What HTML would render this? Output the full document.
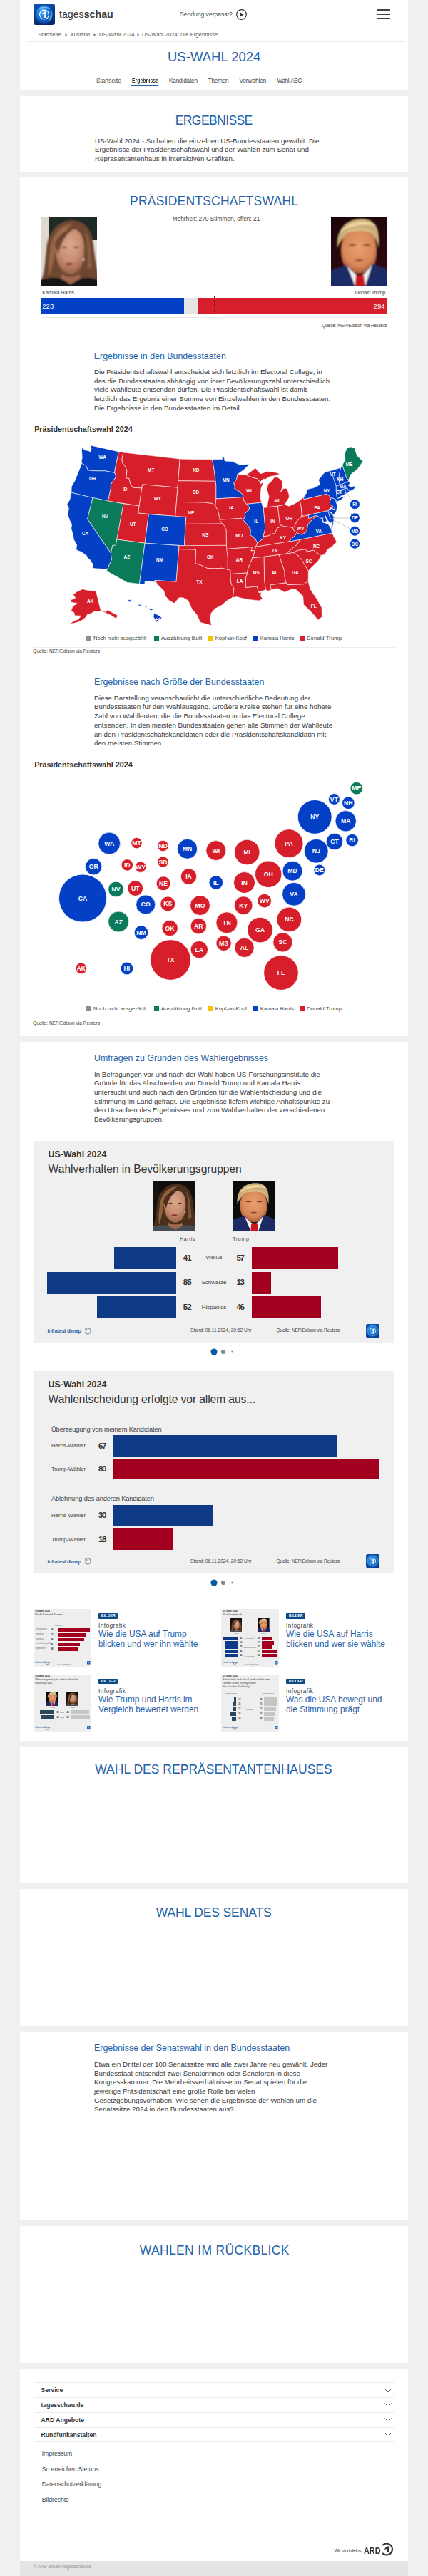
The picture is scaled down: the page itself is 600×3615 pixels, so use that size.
<!DOCTYPE html>
<html lang="de"><head><meta charset="utf-8"><title>US-Wahl 2024: Die Ergebnisse</title>
<style>
html,body{margin:0;padding:0;}
body{width:600px;height:3615px;position:relative;overflow:hidden;background:#f0f0f0;font-family:"Liberation Sans",sans-serif;}
.t{position:absolute;white-space:nowrap;line-height:1;}
svg{position:absolute;overflow:visible;}
</style></head><body>
<div style="position:absolute;left:28px;top:0px;width:544px;height:127px;background:#fff;"></div><div style="position:absolute;left:28px;top:135px;width:544px;height:106px;background:#fff;"></div><div style="position:absolute;left:28px;top:249px;width:544px;height:1205px;background:#fff;"></div><div style="position:absolute;left:28px;top:1462px;width:544px;height:981px;background:#fff;"></div><div style="position:absolute;left:28px;top:2451px;width:544px;height:192px;background:#fff;"></div><div style="position:absolute;left:28px;top:2651px;width:544px;height:192px;background:#fff;"></div><div style="position:absolute;left:28px;top:2851px;width:544px;height:265px;background:#fff;"></div><div style="position:absolute;left:28px;top:3124px;width:544px;height:192px;background:#fff;"></div><div style="position:absolute;left:28px;top:3324px;width:544px;height:291px;background:#fff;"></div><div style="position:absolute;left:28px;top:3594px;width:544px;height:21px;background:#e4e4e4;"></div><svg style="left:47px;top:5px" width="30" height="30" viewBox="0 0 30 30">
<defs><linearGradient id="lg0" x1="0" y1="0" x2="0.3" y2="1"><stop offset="0" stop-color="#0e56b8"/><stop offset="1" stop-color="#07296e"/></linearGradient>
<radialGradient id="lg1" cx="0.4" cy="0.35" r="0.65"><stop offset="0" stop-color="#47b4f7"/><stop offset="0.5" stop-color="#1a78d8"/><stop offset="1" stop-color="#0a47a6"/></radialGradient></defs>
<rect x="0" y="0" width="30" height="30" rx="3.5" fill="url(#lg0)"/>
<circle cx="15" cy="15.5" r="12.2" fill="url(#lg1)"/>
<path d="M5 9 C9 3.5 19 2.5 24.5 8 C20 5.5 11 5.5 5 9Z" fill="#8fd3ff" opacity="0.7"/>
<path d="M25 10 C28 16 26 23 20 26 C23 21 24 15 25 10Z" fill="#8fd3ff" opacity="0.5"/>
<circle cx="15" cy="15.5" r="6.4" fill="none" stroke="#fff" stroke-width="1.1"/>
<path d="M12.4 13.6 L16.1 11.2 L17.5 11.2 L17.5 20 L15.2 20 L15.2 14.1 L12.4 15.3 Z" fill="#fff"/>
</svg><svg style="left:331px;top:13px" width="15" height="15" viewBox="0 0 15 15"><circle cx="7.5" cy="7.5" r="6.8" fill="none" stroke="#333" stroke-width="1.2"/><path d="M5.6 4.3 L10.6 7.5 L5.6 10.7 Z" fill="#333"/></svg><div style="position:absolute;left:529px;top:13.3px;width:18px;height:1.8000000000000007px;background:#444;"></div><div style="position:absolute;left:529px;top:18.9px;width:18px;height:1.8000000000000007px;background:#444;"></div><div style="position:absolute;left:529px;top:24.5px;width:18px;height:1.8000000000000007px;background:#444;"></div><div style="position:absolute;left:38px;top:58px;width:531px;height:1px;background:#ececec;"></div><svg style="left:90.9px;top:46.6px" width="4" height="4" viewBox="0 0 4 4"><path d="M0.5 0.3 L3.3 2 L0.5 3.7Z" fill="#666"/></svg><svg style="left:131.2px;top:46.6px" width="4" height="4" viewBox="0 0 4 4"><path d="M0.5 0.3 L3.3 2 L0.5 3.7Z" fill="#666"/></svg><svg style="left:191.5px;top:46.6px" width="4" height="4" viewBox="0 0 4 4"><path d="M0.5 0.3 L3.3 2 L0.5 3.7Z" fill="#666"/></svg><div style="position:absolute;left:184.4px;top:119.2px;width:37.599999999999994px;height:1.5999999999999943px;background:#1f62a8;"></div><svg style="left:57px;top:304px;overflow:hidden" width="79" height="98" viewBox="0 0 79 98" preserveAspectRatio="none">
<defs><filter id="hb1" x="-10%" y="-10%" width="120%" height="120%"><feGaussianBlur stdDeviation="0.9"/></filter>
<radialGradient id="hf1" cx="0.5" cy="0.35" r="0.65"><stop offset="0" stop-color="#dba88c"/><stop offset="0.6" stop-color="#c88d70"/><stop offset="1" stop-color="#9a6248"/></radialGradient></defs>
<rect width="79" height="98" fill="#dedad0"/>
<rect x="12" y="0" width="67" height="33" fill="#1f2a26"/>
<rect x="70" y="33" width="9" height="50" fill="#e6e3dc"/>
<g filter="url(#hb1)">
<path d="M8 46 C10 20 26 5 45 5 C62 6 72 18 74 40 C76 56 78 72 82 86 L80 92 L0 92 C6 78 6 62 8 46Z" fill="#6e4630"/>
<path d="M14 40 C18 20 32 10 46 10 C36 16 24 28 20 50 C18 62 16 74 12 84 C10 70 12 54 14 40Z" fill="#a8744c" opacity="0.7"/>
<path d="M62 20 C70 30 70 50 72 70 L66 74 C66 56 66 36 62 20Z" fill="#a8744c" opacity="0.55"/>
<path d="M21 48 C20 30 28 17 42 17 C56 17 62 30 61 48 C61 68 54 80 42 81 C30 80 22 68 21 48Z" fill="url(#hf1)"/>
<path d="M20 40 C24 24 36 15 50 16 C40 20 30 30 25 52 C23 48 21 44 20 40Z" fill="#6e4630"/>
<path d="M29 43 Q33 41 37 43 Q33 44.5 29 43Z" fill="#2a1a12"/><path d="M46 43 Q50 41 54 43 Q50 44.5 46 43Z" fill="#2a1a12"/>
<path d="M34 66 Q40 63 46 66 Q40 71 34 66Z" fill="#8a3a3a"/>
<circle cx="60" cy="60" r="1.3" fill="#f4f0e6"/>
<path d="M30 80 C34 86 50 86 54 80 L58 100 L26 100Z" fill="#a06850"/>
<path d="M-5 104 L-5 90 C8 86 20 84 30 88 L42 95 L54 88 C64 84 72 86 84 90 L84 104 Z M30 97 L54 97 L54 104 L30 104Z" fill="#161618"/>
</g></svg><svg style="left:464px;top:304px;overflow:hidden" width="79" height="98" viewBox="0 0 79 98" preserveAspectRatio="none">
<defs><filter id="tb2" x="-10%" y="-10%" width="120%" height="120%"><feGaussianBlur stdDeviation="0.9"/></filter>
<radialGradient id="tf2" cx="0.5" cy="0.4" r="0.6"><stop offset="0" stop-color="#eaa070"/><stop offset="0.7" stop-color="#d88858"/><stop offset="1" stop-color="#a85a38"/></radialGradient></defs>
<linearGradient id="tg2" x1="0" y1="0" x2="0.3" y2="1"><stop offset="0" stop-color="#1a0608"/><stop offset="1" stop-color="#32090f"/></linearGradient>
<rect width="79" height="98" fill="url(#tg2)"/>
<g filter="url(#tb2)">
<path d="M9 44 C6 16 24 3 42 3 C58 3 70 10 67 44 C64 30 58 22 40 22 C24 22 14 30 9 44Z" fill="#c9ad78"/>
<path d="M14 22 C22 6 52 2 64 14 C54 10 30 10 14 22Z" fill="#ecd6a0"/>
<path d="M14 50 C13 28 24 18 40 18 C56 18 65 28 64 50 C64 70 55 80 40 80 C25 80 15 70 14 50Z" fill="url(#tf2)"/>
<path d="M17 24 C26 14 52 13 62 24 C52 19 30 19 17 24Z" fill="#d8bc84"/>
<path d="M24 40 Q30 37 36 40 Q30 42 24 40Z" fill="#6a3a28"/><path d="M44 40 Q50 37 56 40 Q50 42 44 40Z" fill="#6a3a28"/>
<path d="M32 61 Q40 58 46 61 Q40 64 32 61Z" fill="#9a4a3a"/>
<path d="M-5 104 L-5 78 C6 72 16 70 22 68 L40 88 L58 66 C66 68 74 72 84 76 L84 104Z" fill="#1e2c66"/>
<path d="M22 68 L34 98 L48 98 L58 66 C52 76 46 82 40 84 C32 80 26 74 22 68Z" fill="#f2f2f2"/>
<path d="M35 82 L46 82 L49 104 L33 104Z" fill="#c8141e"/>
</g></svg><div style="position:absolute;left:57px;top:418px;width:201.3px;height:22px;background:#0340c6;"></div><div style="position:absolute;left:258.3px;top:418px;width:18.80000000000001px;height:22px;background:#e5e5e5;"></div><div style="position:absolute;left:277.1px;top:418px;width:265.9px;height:22px;background:#d61f2a;"></div><div style="position:absolute;left:299.5px;top:415.5px;width:0;height:24px;border-left:1px dotted #6b1a1f"></div><div style="position:absolute;left:57px;top:444.8px;width:486px;height:1.0px;background:#eaeaea;"></div><div style="position:absolute;left:120.8px;top:891.9px;width:7.200000000000003px;height:7.2000000000000455px;background:#8c8c8c;"></div><div style="position:absolute;left:216px;top:891.9px;width:7.199999999999989px;height:7.2000000000000455px;background:#0b7a5a;"></div><div style="position:absolute;left:291.4px;top:891.9px;width:7.199999999999989px;height:7.2000000000000455px;background:#f2c400;"></div><div style="position:absolute;left:354.5px;top:891.9px;width:7.199999999999989px;height:7.2000000000000455px;background:#0340c6;"></div><div style="position:absolute;left:420px;top:891.9px;width:7.199999999999989px;height:7.2000000000000455px;background:#d61f2a;"></div><div style="position:absolute;left:46px;top:907.5px;width:508px;height:1.0px;background:#ededed;"></div><div style="position:absolute;left:120.8px;top:1412.1000000000001px;width:7.200000000000003px;height:7.199999999999818px;background:#8c8c8c;"></div><div style="position:absolute;left:216px;top:1412.1000000000001px;width:7.199999999999989px;height:7.199999999999818px;background:#0b7a5a;"></div><div style="position:absolute;left:291.4px;top:1412.1000000000001px;width:7.199999999999989px;height:7.199999999999818px;background:#f2c400;"></div><div style="position:absolute;left:354.5px;top:1412.1000000000001px;width:7.199999999999989px;height:7.199999999999818px;background:#0340c6;"></div><div style="position:absolute;left:420px;top:1412.1000000000001px;width:7.199999999999989px;height:7.199999999999818px;background:#d61f2a;"></div><div style="position:absolute;left:46px;top:1427.7px;width:508px;height:1.0px;background:#ededed;"></div><div style="position:absolute;left:47px;top:1601px;width:506px;height:284px;background:#f0f0f0;"></div><svg style="left:214px;top:1658px;overflow:hidden" width="60" height="70" viewBox="0 0 79 98" preserveAspectRatio="none">
<defs><filter id="hb3" x="-10%" y="-10%" width="120%" height="120%"><feGaussianBlur stdDeviation="0.9"/></filter>
<radialGradient id="hf3" cx="0.5" cy="0.35" r="0.65"><stop offset="0" stop-color="#dba88c"/><stop offset="0.6" stop-color="#c88d70"/><stop offset="1" stop-color="#9a6248"/></radialGradient></defs>
<rect width="79" height="98" fill="#15120f"/>
<rect x="12" y="0" width="67" height="33" fill="#100d0b"/>
<rect x="70" y="33" width="9" height="50" fill="#15120f"/>
<g filter="url(#hb3)">
<path d="M8 46 C10 20 26 5 45 5 C62 6 72 18 74 40 C76 56 78 72 82 86 L80 92 L0 92 C6 78 6 62 8 46Z" fill="#4a2e1c"/>
<path d="M14 40 C18 20 32 10 46 10 C36 16 24 28 20 50 C18 62 16 74 12 84 C10 70 12 54 14 40Z" fill="#a8744c" opacity="0.7"/>
<path d="M62 20 C70 30 70 50 72 70 L66 74 C66 56 66 36 62 20Z" fill="#a8744c" opacity="0.55"/>
<path d="M21 48 C20 30 28 17 42 17 C56 17 62 30 61 48 C61 68 54 80 42 81 C30 80 22 68 21 48Z" fill="url(#hf3)"/>
<path d="M20 40 C24 24 36 15 50 16 C40 20 30 30 25 52 C23 48 21 44 20 40Z" fill="#4a2e1c"/>
<path d="M29 43 Q33 41 37 43 Q33 44.5 29 43Z" fill="#2a1a12"/><path d="M46 43 Q50 41 54 43 Q50 44.5 46 43Z" fill="#2a1a12"/>
<path d="M34 66 Q40 63 46 66 Q40 71 34 66Z" fill="#8a3a3a"/>
<circle cx="60" cy="60" r="1.3" fill="#f4f0e6"/>
<path d="M30 80 C34 86 50 86 54 80 L58 100 L26 100Z" fill="#a06850"/>
<path d="M-5 104 L-5 90 C8 86 20 84 30 88 L42 95 L54 88 C64 84 72 86 84 90 L84 104 Z M30 97 L54 97 L54 104 L30 104Z" fill="#4a4d55"/>
</g></svg><svg style="left:326px;top:1658px;overflow:hidden" width="59.5" height="70" viewBox="0 0 79 98" preserveAspectRatio="none">
<defs><filter id="tb4" x="-10%" y="-10%" width="120%" height="120%"><feGaussianBlur stdDeviation="0.9"/></filter>
<radialGradient id="tf4" cx="0.5" cy="0.4" r="0.6"><stop offset="0" stop-color="#eaa070"/><stop offset="0.7" stop-color="#d88858"/><stop offset="1" stop-color="#a85a38"/></radialGradient></defs>
<linearGradient id="tg4" x1="0" y1="0" x2="0.3" y2="1"><stop offset="0" stop-color="#0a0a0c"/><stop offset="1" stop-color="#0c0c0e"/></linearGradient>
<rect width="79" height="98" fill="url(#tg4)"/>
<g filter="url(#tb4)">
<path d="M9 44 C6 16 24 3 42 3 C58 3 70 10 67 44 C64 30 58 22 40 22 C24 22 14 30 9 44Z" fill="#c9ad78"/>
<path d="M14 22 C22 6 52 2 64 14 C54 10 30 10 14 22Z" fill="#ecd6a0"/>
<path d="M14 50 C13 28 24 18 40 18 C56 18 65 28 64 50 C64 70 55 80 40 80 C25 80 15 70 14 50Z" fill="url(#tf4)"/>
<path d="M17 24 C26 14 52 13 62 24 C52 19 30 19 17 24Z" fill="#d8bc84"/>
<path d="M24 40 Q30 37 36 40 Q30 42 24 40Z" fill="#6a3a28"/><path d="M44 40 Q50 37 56 40 Q50 42 44 40Z" fill="#6a3a28"/>
<path d="M32 61 Q40 58 46 61 Q40 64 32 61Z" fill="#9a4a3a"/>
<path d="M-5 104 L-5 78 C6 72 16 70 22 68 L40 88 L58 66 C66 68 74 72 84 76 L84 104Z" fill="#1e2c66"/>
<path d="M22 68 L34 98 L48 98 L58 66 C52 76 46 82 40 84 C32 80 26 74 22 68Z" fill="#f2f2f2"/>
<path d="M35 82 L46 82 L49 104 L33 104Z" fill="#c8141e"/>
</g></svg><div style="position:absolute;left:159.798px;top:1750.0px;width:87.00200000000001px;height:31.0px;background:#0d3987;"></div><div style="position:absolute;left:352.7px;top:1750.0px;width:120.95400000000001px;height:31.0px;background:#a3001f;"></div><div style="position:absolute;left:66.43px;top:1784.6px;width:180.37px;height:31.0px;background:#0d3987;"></div><div style="position:absolute;left:352.7px;top:1784.6px;width:27.586000000000013px;height:31.0px;background:#a3001f;"></div><div style="position:absolute;left:136.45600000000002px;top:1819.2px;width:110.344px;height:31.0px;background:#0d3987;"></div><div style="position:absolute;left:352.7px;top:1819.2px;width:97.61200000000002px;height:31.0px;background:#a3001f;"></div><svg style="left:118px;top:1862.7px" width="10" height="10" viewBox="0 0 10 10"><path d="M5 1 A4 4 0 1 1 1.2 6.2" fill="none" stroke="#7a8aa0" stroke-width="1.1"/><path d="M1.5 1.5 L4 1.5 L4 4 L1.5 4Z" fill="none" stroke="#7a8aa0" stroke-width="0.8"/></svg><svg style="left:513.3px;top:1857.5px" width="19" height="19" viewBox="0 0 30 30">
<defs><radialGradient id="ig1857" cx="0.45" cy="0.45" r="0.7"><stop offset="0" stop-color="#3aa6f2"/><stop offset="0.45" stop-color="#1466c8"/><stop offset="1" stop-color="#06307c"/></radialGradient></defs>
<rect width="30" height="30" rx="4" fill="url(#ig1857)"/>
<circle cx="15" cy="15" r="11" fill="none" stroke="#4fb0f5" stroke-width="3" opacity="0.55"/>
<circle cx="15" cy="15" r="6.6" fill="none" stroke="#fff" stroke-width="1.3"/>
<path d="M12.6 13.2 L16.2 10.8 L17.4 10.8 L17.4 19.6 L15.1 19.6 L15.1 13.6 L12.6 14.8 Z" fill="#fff"/></svg><svg style="left:290px;top:1891.3px" width="40" height="12" viewBox="0 0 40 12"><circle cx="10" cy="6" r="4.6" fill="#0a5aa0"/><circle cx="22.9" cy="6" r="3.1" fill="#8a8a8a"/><circle cx="35.7" cy="6" r="1.45" fill="#8a8a8a"/></svg><div style="position:absolute;left:47px;top:1924px;width:506px;height:283.4000000000001px;background:#f0f0f0;"></div><div style="position:absolute;left:158.9px;top:2014.3px;width:312.89px;height:29.700000000000045px;background:#0d3987;"></div><div style="position:absolute;left:158.9px;top:2046.8px;width:373.6px;height:29.700000000000045px;background:#a3001f;"></div><div style="position:absolute;left:158.9px;top:2111.8px;width:140.1px;height:29.699999999999818px;background:#0d3987;"></div><div style="position:absolute;left:158.9px;top:2145.4px;width:84.06px;height:29.699999999999818px;background:#a3001f;"></div><svg style="left:118px;top:2186.2px" width="10" height="10" viewBox="0 0 10 10"><path d="M5 1 A4 4 0 1 1 1.2 6.2" fill="none" stroke="#7a8aa0" stroke-width="1.1"/><path d="M1.5 1.5 L4 1.5 L4 4 L1.5 4Z" fill="none" stroke="#7a8aa0" stroke-width="0.8"/></svg><svg style="left:513.3px;top:2181.0px" width="19" height="19" viewBox="0 0 30 30">
<defs><radialGradient id="ig2181" cx="0.45" cy="0.45" r="0.7"><stop offset="0" stop-color="#3aa6f2"/><stop offset="0.45" stop-color="#1466c8"/><stop offset="1" stop-color="#06307c"/></radialGradient></defs>
<rect width="30" height="30" rx="4" fill="url(#ig2181)"/>
<circle cx="15" cy="15" r="11" fill="none" stroke="#4fb0f5" stroke-width="3" opacity="0.55"/>
<circle cx="15" cy="15" r="6.6" fill="none" stroke="#fff" stroke-width="1.3"/>
<path d="M12.6 13.2 L16.2 10.8 L17.4 10.8 L17.4 19.6 L15.1 19.6 L15.1 13.6 L12.6 14.8 Z" fill="#fff"/></svg><svg style="left:290px;top:2214.6px" width="40" height="12" viewBox="0 0 40 12"><circle cx="10" cy="6" r="4.6" fill="#0a5aa0"/><circle cx="22.9" cy="6" r="3.1" fill="#8a8a8a"/><circle cx="35.7" cy="6" r="1.45" fill="#8a8a8a"/></svg><div style="position:absolute;left:47px;top:2258.2px;width:81.3px;height:80.5px;background:#eeeeee"></div><div class="t" style="left:49.3px;top:2259.68px;font-size:3.1px;color:#333;font-weight:bold;">US-Wahl 2024</div><div class="t" style="left:49.3px;top:2263.56px;font-size:4.3px;color:#444;">Profil Donald Trump</div><div class="t" style="left:49.3px;top:2331.75px;font-size:2.9px;color:#3b66a8;font-weight:bold;">infratest dimap</div><div style="position:absolute;left:64px;top:2331.5px;width:2.6px;height:2.6px;border:0.6px solid #8a9ab0;border-radius:50%"></div><div class="t" style="left:90px;top:2330.84px;font-size:2.2px;color:#777;transform:translateX(-50%);">Stand: 06.11.2024, 20:52 Uhr</div><div class="t" style="left:90px;top:2333.54px;font-size:2.2px;color:#777;transform:translateX(-50%);">Quelle: NEP/Edison</div><svg style="left:121.8px;top:2330.7999999999997px" width="4.4" height="4.4" viewBox="0 0 30 30">
<defs><radialGradient id="ig2330" cx="0.45" cy="0.45" r="0.7"><stop offset="0" stop-color="#3aa6f2"/><stop offset="0.45" stop-color="#1466c8"/><stop offset="1" stop-color="#06307c"/></radialGradient></defs>
<rect width="30" height="30" rx="4" fill="url(#ig2330)"/>
<circle cx="15" cy="15" r="11" fill="none" stroke="#4fb0f5" stroke-width="3" opacity="0.55"/>
<circle cx="15" cy="15" r="6.6" fill="none" stroke="#fff" stroke-width="1.3"/>
<path d="M12.6 13.2 L16.2 10.8 L17.4 10.8 L17.4 19.6 L15.1 19.6 L15.1 13.6 L12.6 14.8 Z" fill="#fff"/></svg><div class="t" style="left:82.5px;top:2280.77px;font-size:2.4px;color:#666;transform:translateX(-50%);">Tsd. 2024</div><div style="position:absolute;left:81.6px;top:2284.6px;width:44.400000000000006px;height:5.400000000000091px;background:#a3001f;"></div><div class="t" style="left:50px;top:2286.30px;font-size:2.6px;color:#666;">Ein ungewisst</div><div class="t" style="left:71.2px;top:2286.16px;font-size:3.0px;color:#333;font-weight:bold;">54</div><div class="t" style="left:76.5px;top:2286.84px;font-size:2.2px;color:#777;">+/-</div><div style="position:absolute;left:81.6px;top:2291.2999999999997px;width:39.0px;height:5.400000000000091px;background:#a3001f;"></div><div class="t" style="left:50px;top:2293.00px;font-size:2.6px;color:#666;">lebenslust</div><div class="t" style="left:71.2px;top:2292.86px;font-size:3.0px;color:#333;font-weight:bold;">52</div><div class="t" style="left:76.5px;top:2293.54px;font-size:2.2px;color:#777;">+/-</div><div style="position:absolute;left:81.6px;top:2298.0px;width:36.900000000000006px;height:5.400000000000091px;background:#a3001f;"></div><div class="t" style="left:50px;top:2299.70px;font-size:2.6px;color:#666;">ungewisst</div><div class="t" style="left:71.2px;top:2299.56px;font-size:3.0px;color:#333;font-weight:bold;">49</div><div class="t" style="left:76.5px;top:2300.24px;font-size:2.2px;color:#777;">+/-</div><div style="position:absolute;left:81.6px;top:2304.7px;width:30.799999999999997px;height:5.400000000000091px;background:#a3001f;"></div><div class="t" style="left:50px;top:2306.40px;font-size:2.6px;color:#666;">entscheidungsfähig</div><div class="t" style="left:71.2px;top:2306.26px;font-size:3.0px;color:#333;font-weight:bold;">41</div><div class="t" style="left:76.5px;top:2306.94px;font-size:2.2px;color:#777;">+/-</div><div style="position:absolute;left:81.6px;top:2311.4px;width:28.400000000000006px;height:5.400000000000091px;background:#a3001f;"></div><div class="t" style="left:50px;top:2313.10px;font-size:2.6px;color:#666;">sympathisch</div><div class="t" style="left:71.2px;top:2312.96px;font-size:3.0px;color:#333;font-weight:bold;">38</div><div class="t" style="left:76.5px;top:2313.64px;font-size:2.2px;color:#777;">+/-</div><div style="position:absolute;left:138px;top:2263.9px;width:27.099999999999994px;height:7.900000000000091px;background:#0c4a86;border-radius:1px"></div><div style="position:absolute;left:309.8px;top:2258.2px;width:81.3px;height:80.5px;background:#eeeeee"></div><div class="t" style="left:312.1px;top:2259.68px;font-size:3.1px;color:#333;font-weight:bold;">US-Wahl 2024</div><div class="t" style="left:312.1px;top:2263.56px;font-size:4.3px;color:#444;">Profilvergleich</div><div class="t" style="left:312.1px;top:2331.75px;font-size:2.9px;color:#3b66a8;font-weight:bold;">infratest dimap</div><div style="position:absolute;left:326.8px;top:2331.5px;width:2.6px;height:2.6px;border:0.6px solid #8a9ab0;border-radius:50%"></div><div class="t" style="left:352.8px;top:2330.84px;font-size:2.2px;color:#777;transform:translateX(-50%);">Stand: 06.11.2024, 20:52 Uhr</div><div class="t" style="left:352.8px;top:2333.54px;font-size:2.2px;color:#777;transform:translateX(-50%);">Quelle: NEP/Edison</div><svg style="left:384.6px;top:2330.7999999999997px" width="4.4" height="4.4" viewBox="0 0 30 30">
<defs><radialGradient id="ig2330" cx="0.45" cy="0.45" r="0.7"><stop offset="0" stop-color="#3aa6f2"/><stop offset="0.45" stop-color="#1466c8"/><stop offset="1" stop-color="#06307c"/></radialGradient></defs>
<rect width="30" height="30" rx="4" fill="url(#ig2330)"/>
<circle cx="15" cy="15" r="11" fill="none" stroke="#4fb0f5" stroke-width="3" opacity="0.55"/>
<circle cx="15" cy="15" r="6.6" fill="none" stroke="#fff" stroke-width="1.3"/>
<path d="M12.6 13.2 L16.2 10.8 L17.4 10.8 L17.4 19.6 L15.1 19.6 L15.1 13.6 L12.6 14.8 Z" fill="#fff"/></svg><svg style="left:322.90000000000003px;top:2271.0px;overflow:hidden" width="16.4" height="19.2" viewBox="0 0 79 98" preserveAspectRatio="none">
<defs><filter id="hb5" x="-10%" y="-10%" width="120%" height="120%"><feGaussianBlur stdDeviation="0.9"/></filter>
<radialGradient id="hf5" cx="0.5" cy="0.35" r="0.65"><stop offset="0" stop-color="#dba88c"/><stop offset="0.6" stop-color="#c88d70"/><stop offset="1" stop-color="#9a6248"/></radialGradient></defs>
<rect width="79" height="98" fill="#15120f"/>
<rect x="12" y="0" width="67" height="33" fill="#100d0b"/>
<rect x="70" y="33" width="9" height="50" fill="#15120f"/>
<g filter="url(#hb5)">
<path d="M8 46 C10 20 26 5 45 5 C62 6 72 18 74 40 C76 56 78 72 82 86 L80 92 L0 92 C6 78 6 62 8 46Z" fill="#4a2e1c"/>
<path d="M14 40 C18 20 32 10 46 10 C36 16 24 28 20 50 C18 62 16 74 12 84 C10 70 12 54 14 40Z" fill="#a8744c" opacity="0.7"/>
<path d="M62 20 C70 30 70 50 72 70 L66 74 C66 56 66 36 62 20Z" fill="#a8744c" opacity="0.55"/>
<path d="M21 48 C20 30 28 17 42 17 C56 17 62 30 61 48 C61 68 54 80 42 81 C30 80 22 68 21 48Z" fill="url(#hf5)"/>
<path d="M20 40 C24 24 36 15 50 16 C40 20 30 30 25 52 C23 48 21 44 20 40Z" fill="#4a2e1c"/>
<path d="M29 43 Q33 41 37 43 Q33 44.5 29 43Z" fill="#2a1a12"/><path d="M46 43 Q50 41 54 43 Q50 44.5 46 43Z" fill="#2a1a12"/>
<path d="M34 66 Q40 63 46 66 Q40 71 34 66Z" fill="#8a3a3a"/>
<circle cx="60" cy="60" r="1.3" fill="#f4f0e6"/>
<path d="M30 80 C34 86 50 86 54 80 L58 100 L26 100Z" fill="#a06850"/>
<path d="M-5 104 L-5 90 C8 86 20 84 30 88 L42 95 L54 88 C64 84 72 86 84 90 L84 104 Z M30 97 L54 97 L54 104 L30 104Z" fill="#4a4d55"/>
</g></svg><svg style="left:361.2px;top:2271.0px;overflow:hidden" width="16.6" height="19.2" viewBox="0 0 79 98" preserveAspectRatio="none">
<defs><filter id="tb6" x="-10%" y="-10%" width="120%" height="120%"><feGaussianBlur stdDeviation="0.9"/></filter>
<radialGradient id="tf6" cx="0.5" cy="0.4" r="0.6"><stop offset="0" stop-color="#eaa070"/><stop offset="0.7" stop-color="#d88858"/><stop offset="1" stop-color="#a85a38"/></radialGradient></defs>
<linearGradient id="tg6" x1="0" y1="0" x2="0.3" y2="1"><stop offset="0" stop-color="#0a0a0c"/><stop offset="1" stop-color="#0c0c0e"/></linearGradient>
<rect width="79" height="98" fill="url(#tg6)"/>
<g filter="url(#tb6)">
<path d="M9 44 C6 16 24 3 42 3 C58 3 70 10 67 44 C64 30 58 22 40 22 C24 22 14 30 9 44Z" fill="#c9ad78"/>
<path d="M14 22 C22 6 52 2 64 14 C54 10 30 10 14 22Z" fill="#ecd6a0"/>
<path d="M14 50 C13 28 24 18 40 18 C56 18 65 28 64 50 C64 70 55 80 40 80 C25 80 15 70 14 50Z" fill="url(#tf6)"/>
<path d="M17 24 C26 14 52 13 62 24 C52 19 30 19 17 24Z" fill="#d8bc84"/>
<path d="M24 40 Q30 37 36 40 Q30 42 24 40Z" fill="#6a3a28"/><path d="M44 40 Q50 37 56 40 Q50 42 44 40Z" fill="#6a3a28"/>
<path d="M32 61 Q40 58 46 61 Q40 64 32 61Z" fill="#9a4a3a"/>
<path d="M-5 104 L-5 78 C6 72 16 70 22 68 L40 88 L58 66 C66 68 74 72 84 76 L84 104Z" fill="#1e2c66"/>
<path d="M22 68 L34 98 L48 98 L58 66 C52 76 46 82 40 84 C32 80 26 74 22 68Z" fill="#f2f2f2"/>
<path d="M35 82 L46 82 L49 104 L33 104Z" fill="#c8141e"/>
</g></svg><div class="t" style="left:330.8px;top:2291.34px;font-size:2.2px;color:#666;transform:translateX(-50%);">Harris</div><div class="t" style="left:369.3px;top:2291.34px;font-size:2.2px;color:#666;transform:translateX(-50%);">Trump</div><div style="position:absolute;left:312.1px;top:2296.7px;width:20.599999999999966px;height:5.0px;background:#0d3987;"></div><div style="position:absolute;left:367.0px;top:2296.7px;width:13.600000000000023px;height:5.0px;background:#a3001f;"></div><div class="t" style="left:336.3px;top:2297.83px;font-size:2.8px;color:#333;font-weight:bold;">49</div><div class="t" style="left:349.8px;top:2298.34px;font-size:2.2px;color:#666;transform:translateX(-50%);">sympathisch</div><div class="t" style="left:360.8px;top:2297.83px;font-size:2.8px;color:#333;font-weight:bold;">38</div><div style="position:absolute;left:314.5px;top:2302.7999999999997px;width:18.19999999999999px;height:5.0px;background:#0d3987;"></div><div style="position:absolute;left:367.0px;top:2302.7999999999997px;width:17.100000000000023px;height:5.0px;background:#a3001f;"></div><div class="t" style="left:336.3px;top:2303.93px;font-size:2.8px;color:#333;font-weight:bold;">54</div><div class="t" style="left:349.8px;top:2304.44px;font-size:2.2px;color:#666;transform:translateX(-50%);">besonnen</div><div class="t" style="left:360.8px;top:2303.93px;font-size:2.8px;color:#333;font-weight:bold;">42</div><div style="position:absolute;left:315.90000000000003px;top:2308.8999999999996px;width:16.799999999999955px;height:5.0px;background:#0d3987;"></div><div style="position:absolute;left:367.0px;top:2308.8999999999996px;width:14.800000000000011px;height:5.0px;background:#a3001f;"></div><div class="t" style="left:336.3px;top:2310.03px;font-size:2.8px;color:#333;font-weight:bold;">45</div><div class="t" style="left:349.8px;top:2310.54px;font-size:2.2px;color:#666;transform:translateX(-50%);">entscheidungsstark</div><div class="t" style="left:360.8px;top:2310.03px;font-size:2.8px;color:#333;font-weight:bold;">45</div><div style="position:absolute;left:315.90000000000003px;top:2315.0px;width:16.799999999999955px;height:5.0px;background:#0d3987;"></div><div style="position:absolute;left:367.0px;top:2315.0px;width:21.80000000000001px;height:5.0px;background:#a3001f;"></div><div class="t" style="left:336.3px;top:2316.13px;font-size:2.8px;color:#333;font-weight:bold;">46</div><div class="t" style="left:349.8px;top:2316.64px;font-size:2.2px;color:#666;transform:translateX(-50%);">glaubwürdig</div><div class="t" style="left:360.8px;top:2316.13px;font-size:2.8px;color:#333;font-weight:bold;">63</div><div style="position:absolute;left:316.40000000000003px;top:2321.1px;width:16.299999999999955px;height:5.0px;background:#0d3987;"></div><div style="position:absolute;left:367.0px;top:2321.1px;width:21.0px;height:5.0px;background:#a3001f;"></div><div class="t" style="left:336.3px;top:2322.23px;font-size:2.8px;color:#333;font-weight:bold;">48</div><div class="t" style="left:349.8px;top:2322.74px;font-size:2.2px;color:#666;transform:translateX(-50%);">Ein ungewisst</div><div class="t" style="left:360.8px;top:2322.23px;font-size:2.8px;color:#333;font-weight:bold;">54</div><div style="position:absolute;left:401px;top:2263.9px;width:27.100000000000023px;height:7.900000000000091px;background:#0c4a86;border-radius:1px"></div><div style="position:absolute;left:47px;top:2349.8px;width:81.3px;height:80.5px;background:#eeeeee"></div><div class="t" style="left:49.3px;top:2351.28px;font-size:3.1px;color:#333;font-weight:bold;">US-Wahl 2024</div><div class="t" style="left:49.3px;top:2355.33px;font-size:4.1px;color:#444;">Überwiegend gute oder schlechte</div><div class="t" style="left:49.3px;top:2359.93px;font-size:4.1px;color:#444;">Meinung von...</div><div class="t" style="left:49.3px;top:2423.35px;font-size:2.9px;color:#3b66a8;font-weight:bold;">infratest dimap</div><div style="position:absolute;left:64px;top:2423.1000000000004px;width:2.6px;height:2.6px;border:0.6px solid #8a9ab0;border-radius:50%"></div><div class="t" style="left:90px;top:2422.44px;font-size:2.2px;color:#777;transform:translateX(-50%);">Stand: 06.11.2024, 20:52 Uhr</div><div class="t" style="left:90px;top:2425.14px;font-size:2.2px;color:#777;transform:translateX(-50%);">Quelle: NEP/Edison</div><svg style="left:121.8px;top:2422.4px" width="4.4" height="4.4" viewBox="0 0 30 30">
<defs><radialGradient id="ig2422" cx="0.45" cy="0.45" r="0.7"><stop offset="0" stop-color="#3aa6f2"/><stop offset="0.45" stop-color="#1466c8"/><stop offset="1" stop-color="#06307c"/></radialGradient></defs>
<rect width="30" height="30" rx="4" fill="url(#ig2422)"/>
<circle cx="15" cy="15" r="11" fill="none" stroke="#4fb0f5" stroke-width="3" opacity="0.55"/>
<circle cx="15" cy="15" r="6.6" fill="none" stroke="#fff" stroke-width="1.3"/>
<path d="M12.6 13.2 L16.2 10.8 L17.4 10.8 L17.4 19.6 L15.1 19.6 L15.1 13.6 L12.6 14.8 Z" fill="#fff"/></svg><svg style="left:65.2px;top:2373.9px;overflow:hidden" width="17.3" height="19.8" viewBox="0 0 79 98" preserveAspectRatio="none">
<defs><filter id="tb7" x="-10%" y="-10%" width="120%" height="120%"><feGaussianBlur stdDeviation="0.9"/></filter>
<radialGradient id="tf7" cx="0.5" cy="0.4" r="0.6"><stop offset="0" stop-color="#eaa070"/><stop offset="0.7" stop-color="#d88858"/><stop offset="1" stop-color="#a85a38"/></radialGradient></defs>
<linearGradient id="tg7" x1="0" y1="0" x2="0.3" y2="1"><stop offset="0" stop-color="#0a0a0c"/><stop offset="1" stop-color="#0c0c0e"/></linearGradient>
<rect width="79" height="98" fill="url(#tg7)"/>
<g filter="url(#tb7)">
<path d="M9 44 C6 16 24 3 42 3 C58 3 70 10 67 44 C64 30 58 22 40 22 C24 22 14 30 9 44Z" fill="#c9ad78"/>
<path d="M14 22 C22 6 52 2 64 14 C54 10 30 10 14 22Z" fill="#ecd6a0"/>
<path d="M14 50 C13 28 24 18 40 18 C56 18 65 28 64 50 C64 70 55 80 40 80 C25 80 15 70 14 50Z" fill="url(#tf7)"/>
<path d="M17 24 C26 14 52 13 62 24 C52 19 30 19 17 24Z" fill="#d8bc84"/>
<path d="M24 40 Q30 37 36 40 Q30 42 24 40Z" fill="#6a3a28"/><path d="M44 40 Q50 37 56 40 Q50 42 44 40Z" fill="#6a3a28"/>
<path d="M32 61 Q40 58 46 61 Q40 64 32 61Z" fill="#9a4a3a"/>
<path d="M-5 104 L-5 78 C6 72 16 70 22 68 L40 88 L58 66 C66 68 74 72 84 76 L84 104Z" fill="#1e2c66"/>
<path d="M22 68 L34 98 L48 98 L58 66 C52 76 46 82 40 84 C32 80 26 74 22 68Z" fill="#f2f2f2"/>
<path d="M35 82 L46 82 L49 104 L33 104Z" fill="#c8141e"/>
</g></svg><svg style="left:93px;top:2373.9px;overflow:hidden" width="17" height="19.8" viewBox="0 0 79 98" preserveAspectRatio="none">
<defs><filter id="hb8" x="-10%" y="-10%" width="120%" height="120%"><feGaussianBlur stdDeviation="0.9"/></filter>
<radialGradient id="hf8" cx="0.5" cy="0.35" r="0.65"><stop offset="0" stop-color="#dba88c"/><stop offset="0.6" stop-color="#c88d70"/><stop offset="1" stop-color="#9a6248"/></radialGradient></defs>
<rect width="79" height="98" fill="#15120f"/>
<rect x="12" y="0" width="67" height="33" fill="#100d0b"/>
<rect x="70" y="33" width="9" height="50" fill="#15120f"/>
<g filter="url(#hb8)">
<path d="M8 46 C10 20 26 5 45 5 C62 6 72 18 74 40 C76 56 78 72 82 86 L80 92 L0 92 C6 78 6 62 8 46Z" fill="#4a2e1c"/>
<path d="M14 40 C18 20 32 10 46 10 C36 16 24 28 20 50 C18 62 16 74 12 84 C10 70 12 54 14 40Z" fill="#a8744c" opacity="0.7"/>
<path d="M62 20 C70 30 70 50 72 70 L66 74 C66 56 66 36 62 20Z" fill="#a8744c" opacity="0.55"/>
<path d="M21 48 C20 30 28 17 42 17 C56 17 62 30 61 48 C61 68 54 80 42 81 C30 80 22 68 21 48Z" fill="url(#hf8)"/>
<path d="M20 40 C24 24 36 15 50 16 C40 20 30 30 25 52 C23 48 21 44 20 40Z" fill="#4a2e1c"/>
<path d="M29 43 Q33 41 37 43 Q33 44.5 29 43Z" fill="#2a1a12"/><path d="M46 43 Q50 41 54 43 Q50 44.5 46 43Z" fill="#2a1a12"/>
<path d="M34 66 Q40 63 46 66 Q40 71 34 66Z" fill="#8a3a3a"/>
<circle cx="60" cy="60" r="1.3" fill="#f4f0e6"/>
<path d="M30 80 C34 86 50 86 54 80 L58 100 L26 100Z" fill="#a06850"/>
<path d="M-5 104 L-5 90 C8 86 20 84 30 88 L42 95 L54 88 C64 84 72 86 84 90 L84 104 Z M30 97 L54 97 L54 104 L30 104Z" fill="#4a4d55"/>
</g></svg><div class="t" style="left:74px;top:2395.44px;font-size:2.2px;color:#666;transform:translateX(-50%);">Trump</div><div class="t" style="left:101.5px;top:2395.44px;font-size:2.2px;color:#666;transform:translateX(-50%);">Harris</div><div style="position:absolute;left:56.3px;top:2400.0px;width:19.900000000000006px;height:5.900000000000091px;background:#2c475c;"></div><div style="position:absolute;left:57.5px;top:2407.0px;width:18.700000000000003px;height:5.900000000000091px;background:#2c475c;"></div><div style="position:absolute;left:99.3px;top:2400.0px;width:25.700000000000003px;height:5.900000000000091px;background:#c6c6c6;"></div><div style="position:absolute;left:99.3px;top:2407.0px;width:26.700000000000003px;height:5.900000000000091px;background:#c6c6c6;"></div><div class="t" style="left:79.5px;top:2401.73px;font-size:2.8px;color:#333;font-weight:bold;">52</div><div class="t" style="left:87px;top:2402.24px;font-size:2.2px;color:#666;transform:translateX(-50%);">Trump</div><div class="t" style="left:93.5px;top:2401.73px;font-size:2.8px;color:#333;font-weight:bold;">46</div><div class="t" style="left:79.5px;top:2408.73px;font-size:2.8px;color:#333;font-weight:bold;">48</div><div class="t" style="left:87px;top:2409.24px;font-size:2.2px;color:#666;transform:translateX(-50%);">Harris</div><div class="t" style="left:93.5px;top:2408.73px;font-size:2.8px;color:#333;font-weight:bold;">52</div><div style="position:absolute;left:138px;top:2355.6px;width:27.099999999999994px;height:7.900000000000091px;background:#0c4a86;border-radius:1px"></div><div style="position:absolute;left:309.8px;top:2349.8px;width:81.3px;height:80.5px;background:#eeeeee"></div><div class="t" style="left:312.1px;top:2351.28px;font-size:3.1px;color:#333;font-weight:bold;">US-Wahl 2024</div><div class="t" style="left:312.1px;top:2355.33px;font-size:4.1px;color:#444;">Entwickelt sich das Land auf diesem</div><div class="t" style="left:312.1px;top:2359.93px;font-size:4.1px;color:#444;">Gebiet in die richtige oder</div><div class="t" style="left:312.1px;top:2364.53px;font-size:4.1px;color:#444;">die falsche Richtung?</div><div class="t" style="left:312.1px;top:2423.35px;font-size:2.9px;color:#3b66a8;font-weight:bold;">infratest dimap</div><div style="position:absolute;left:326.8px;top:2423.1000000000004px;width:2.6px;height:2.6px;border:0.6px solid #8a9ab0;border-radius:50%"></div><div class="t" style="left:352.8px;top:2422.44px;font-size:2.2px;color:#777;transform:translateX(-50%);">Stand: 06.11.2024, 20:52 Uhr</div><div class="t" style="left:352.8px;top:2425.14px;font-size:2.2px;color:#777;transform:translateX(-50%);">Quelle: NEP/Edison</div><svg style="left:384.6px;top:2422.4px" width="4.4" height="4.4" viewBox="0 0 30 30">
<defs><radialGradient id="ig2422" cx="0.45" cy="0.45" r="0.7"><stop offset="0" stop-color="#3aa6f2"/><stop offset="0.45" stop-color="#1466c8"/><stop offset="1" stop-color="#06307c"/></radialGradient></defs>
<rect width="30" height="30" rx="4" fill="url(#ig2422)"/>
<circle cx="15" cy="15" r="11" fill="none" stroke="#4fb0f5" stroke-width="3" opacity="0.55"/>
<circle cx="15" cy="15" r="6.6" fill="none" stroke="#fff" stroke-width="1.3"/>
<path d="M12.6 13.2 L16.2 10.8 L17.4 10.8 L17.4 19.6 L15.1 19.6 L15.1 13.6 L12.6 14.8 Z" fill="#fff"/></svg><div class="t" style="left:323.8px;top:2375.44px;font-size:2.2px;color:#666;transform:translateX(-50%);">richtige Richtung</div><div class="t" style="left:375.8px;top:2375.44px;font-size:2.2px;color:#666;transform:translateX(-50%);">falsche Richtung</div><div style="position:absolute;left:327.6px;top:2382.0px;width:3.1999999999999886px;height:5.800000000000182px;background:#2c475c;"></div><div style="position:absolute;left:370.0px;top:2382.0px;width:18.80000000000001px;height:5.800000000000182px;background:#c6c6c6;"></div><div class="t" style="left:334.3px;top:2383.63px;font-size:2.8px;color:#333;font-weight:bold;">14</div><div class="t" style="left:349.8px;top:2384.14px;font-size:2.2px;color:#666;transform:translateX(-50%);">Einwanderung</div><div class="t" style="left:364.3px;top:2383.63px;font-size:2.8px;color:#333;font-weight:bold;">78</div><div style="position:absolute;left:326.2px;top:2388.7px;width:4.600000000000023px;height:5.800000000000182px;background:#2c475c;"></div><div style="position:absolute;left:370.0px;top:2388.7px;width:18.30000000000001px;height:5.800000000000182px;background:#c6c6c6;"></div><div class="t" style="left:334.3px;top:2390.33px;font-size:2.8px;color:#333;font-weight:bold;">26</div><div class="t" style="left:349.8px;top:2390.84px;font-size:2.2px;color:#666;transform:translateX(-50%);">Sicherheitsprogramme</div><div class="t" style="left:364.3px;top:2390.33px;font-size:2.8px;color:#333;font-weight:bold;">70</div><div style="position:absolute;left:326.40000000000003px;top:2395.4px;width:4.399999999999977px;height:5.800000000000182px;background:#2c475c;"></div><div style="position:absolute;left:370.0px;top:2395.4px;width:16.899999999999977px;height:5.800000000000182px;background:#c6c6c6;"></div><div class="t" style="left:334.3px;top:2397.03px;font-size:2.8px;color:#333;font-weight:bold;">17</div><div class="t" style="left:349.8px;top:2397.54px;font-size:2.2px;color:#666;transform:translateX(-50%);">Kriminalität</div><div class="t" style="left:364.3px;top:2397.03px;font-size:2.8px;color:#333;font-weight:bold;">63</div><div style="position:absolute;left:323.40000000000003px;top:2402.1px;width:7.399999999999977px;height:5.800000000000182px;background:#2c475c;"></div><div style="position:absolute;left:370.0px;top:2402.1px;width:15.300000000000011px;height:5.800000000000182px;background:#c6c6c6;"></div><div class="t" style="left:334.3px;top:2403.73px;font-size:2.8px;color:#333;font-weight:bold;">28</div><div class="t" style="left:349.8px;top:2404.24px;font-size:2.2px;color:#666;transform:translateX(-50%);">Wirtschaft</div><div class="t" style="left:364.3px;top:2403.73px;font-size:2.8px;color:#333;font-weight:bold;">65</div><div style="position:absolute;left:325.2px;top:2408.8px;width:5.600000000000023px;height:5.800000000000182px;background:#2c475c;"></div><div style="position:absolute;left:370.0px;top:2408.8px;width:14.100000000000023px;height:5.800000000000182px;background:#c6c6c6;"></div><div class="t" style="left:334.3px;top:2410.43px;font-size:2.8px;color:#333;font-weight:bold;">25</div><div class="t" style="left:349.8px;top:2410.94px;font-size:2.2px;color:#666;transform:translateX(-50%);">Außenpolitik</div><div class="t" style="left:364.3px;top:2410.43px;font-size:2.8px;color:#333;font-weight:bold;">58</div><div style="position:absolute;left:401px;top:2355.6px;width:27.100000000000023px;height:7.900000000000091px;background:#0c4a86;border-radius:1px"></div><div style="position:absolute;left:47.5px;top:3343.3px;width:504.5px;height:1.0px;background:#ececec;"></div><div style="position:absolute;left:47.5px;top:3364.3px;width:504.5px;height:1.0px;background:#ececec;"></div><div style="position:absolute;left:47.5px;top:3385.2px;width:504.5px;height:1.0px;background:#ececec;"></div><div style="position:absolute;left:47.5px;top:3405.8px;width:504.5px;height:1.0px;background:#ececec;"></div><div style="position:absolute;left:47.5px;top:3426.3px;width:504.5px;height:1.0px;background:#ececec;"></div><svg style="left:539px;top:3351.5px" width="10" height="6" viewBox="0 0 10 6"><path d="M0.5 0.5 L5 5 L9.5 0.5" fill="none" stroke="#666" stroke-width="1"/></svg><svg style="left:539px;top:3372.25px" width="10" height="6" viewBox="0 0 10 6"><path d="M0.5 0.5 L5 5 L9.5 0.5" fill="none" stroke="#666" stroke-width="1"/></svg><svg style="left:539px;top:3393.0px" width="10" height="6" viewBox="0 0 10 6"><path d="M0.5 0.5 L5 5 L9.5 0.5" fill="none" stroke="#666" stroke-width="1"/></svg><svg style="left:539px;top:3413.75px" width="10" height="6" viewBox="0 0 10 6"><path d="M0.5 0.5 L5 5 L9.5 0.5" fill="none" stroke="#666" stroke-width="1"/></svg><svg style="left:533px;top:3568px" width="19" height="19" viewBox="0 0 19 19"><path d="M3.2 4 A8 8 0 1 1 3.2 15" fill="none" stroke="#333" stroke-width="2.2"/><path d="M6.5 8 L10.8 5.2 L12.3 5.2 L12.3 14 L9.6 14 L9.6 8.8 L6.5 10Z" fill="#333"/></svg><svg style="left:0;top:0" width="600" height="900" viewBox="0 0 600 900"><g stroke="#fff" stroke-width="0.6" stroke-linejoin="round"><path d="M115.2 628.2L119.1 631.7L124.4 632.8L127.1 634.3L128.1 629.4L126.6 624.9L166.5 633.9L161.0 659.2L160.9 663.5L146.8 660.7L144.5 660.9L130.9 660.7L123.2 659.9L120.6 653.5L114.4 650.3L114.4 646.6L115.2 642.6L114.9 636.3L114.5 632.0Z" fill="#0340c6"/><path d="M100.0 691.2L130.1 698.6L151.5 703.0L155.4 685.1L155.3 679.9L158.6 674.9L162.7 669.0L160.9 663.5L146.8 660.7L144.5 660.9L130.9 660.7L123.2 659.9L120.6 653.5L114.4 650.3L111.9 657.5L108.0 666.9L105.0 674.5L100.3 682.8Z" fill="#0340c6"/><path d="M100.0 691.2L130.1 698.6L122.6 728.4L155.5 776.3L155.6 778.4L156.5 785.3L150.4 799.0L130.2 797.4L130.0 791.5L126.2 785.5L122.6 782.7L121.6 779.9L114.4 774.7L106.8 771.4L107.7 764.8L103.7 757.6L102.0 748.7L99.8 741.9L100.7 735.7L98.0 730.8L94.9 722.1L96.6 713.5L94.0 707.5L97.9 701.2L99.2 694.1Z" fill="#0340c6"/><path d="M130.1 698.6L173.2 706.8L162.4 765.1L157.8 765.4L155.5 776.3L122.6 728.4Z" fill="#0b7a5a"/><path d="M166.5 633.9L172.9 635.0L170.9 645.0L172.1 650.7L174.8 653.2L178.0 659.9L176.9 670.9L180.8 671.0L182.7 678.5L186.4 684.2L198.9 684.8L195.1 709.9L151.5 703.0L155.4 685.1L155.3 679.9L158.6 674.9L162.7 669.0L160.9 663.5L161.0 659.2Z" fill="#d61f2a"/><path d="M172.9 635.0L252.2 644.1L249.0 684.2L199.7 679.8L198.9 684.8L186.4 684.2L182.7 678.5L180.8 671.0L176.9 670.9L178.0 659.9L174.8 653.2L172.1 650.7L170.9 645.0Z" fill="#d61f2a"/><path d="M199.7 679.8L249.0 684.2L245.8 724.6L193.5 720.0Z" fill="#d61f2a"/><path d="M173.1 706.8L195.1 709.9L193.5 720.0L208.4 721.7L203.1 762.2L163.8 757.0Z" fill="#d61f2a"/><path d="M208.4 721.7L260.8 725.2L258.4 765.8L203.1 762.2Z" fill="#0340c6"/><path d="M163.8 757.0L203.1 762.2L195.5 819.4L178.4 817.4L149.1 801.1L150.4 799.0L156.5 785.3L155.6 778.4L155.5 776.3L157.8 765.4L162.4 765.1Z" fill="#0b7a5a"/><path d="M203.1 762.2L250.9 765.6L250.6 770.7L247.1 816.3L216.9 814.5L217.7 816.8L203.3 815.6L202.7 820.1L195.5 819.4Z" fill="#0340c6"/><path d="M252.2 644.1L297.6 644.8L300.1 658.7L301.8 671.7L302.1 675.3L249.8 674.7Z" fill="#d61f2a"/><path d="M249.8 674.7L302.1 675.3L302.9 681.7L302.9 699.9L301.8 710.0L297.4 706.6L287.9 705.2L247.4 704.4Z" fill="#d61f2a"/><path d="M247.4 704.4L287.9 705.2L297.4 706.6L301.8 710.0L305.5 716.0L307.0 723.0L311.7 735.1L260.2 735.4L260.8 725.2L245.8 724.6Z" fill="#d61f2a"/><path d="M260.2 735.4L311.7 735.1L314.8 738.0L317.2 743.9L317.5 765.3L258.5 765.9Z" fill="#d61f2a"/><path d="M250.9 765.6L317.5 765.3L319.3 781.4L319.3 799.3L310.8 797.3L301.7 797.9L290.9 797.6L280.3 792.6L273.8 790.9L274.5 771.2L250.6 770.7Z" fill="#d61f2a"/><path d="M250.6 770.7L274.5 771.2L273.8 790.9L280.3 792.6L290.9 797.6L301.7 797.9L310.8 797.3L319.3 799.3L323.0 800.0L323.4 815.7L324.7 820.7L327.9 825.6L326.9 835.2L325.7 838.8L318.3 842.7L310.5 849.6L301.7 853.9L296.3 860.0L294.4 868.1L296.6 877.5L292.5 876.6L280.8 873.2L275.7 862.2L268.8 854.2L264.0 843.0L257.3 838.9L251.2 838.7L244.5 846.5L237.7 843.2L232.1 836.8L229.4 828.6L221.5 820.9L216.9 814.5L247.1 816.3Z" fill="#d61f2a"/><path d="M297.6 644.8L311.5 644.4L311.5 640.6L313.8 641.3L315.2 647.0L325.3 647.6L336.4 652.3L349.9 651.5L341.6 659.3L332.9 665.6L331.8 672.4L327.8 677.5L329.5 683.4L328.9 686.0L334.7 689.1L340.8 694.7L340.8 697.7L302.9 699.9L302.9 681.7L302.1 675.3L301.8 671.7L300.1 658.7Z" fill="#0340c6"/><path d="M302.9 699.9L340.8 697.7L342.0 702.7L345.6 707.4L349.6 712.1L349.4 715.2L343.0 720.9L344.0 724.8L340.8 729.5L338.6 727.3L308.0 729.3L307.0 723.0L305.5 716.0L301.8 710.0Z" fill="#d61f2a"/><path d="M308.0 729.3L338.6 727.3L340.8 729.5L347.8 737.7L351.3 743.5L351.0 750.7L357.7 756.1L360.9 761.9L358.5 767.3L357.3 772.5L351.9 773.0L353.3 767.8L317.6 770.4L317.5 765.3L317.2 743.9L314.8 738.0L311.7 735.1Z" fill="#d61f2a"/><path d="M317.6 770.4L353.3 767.8L351.9 773.0L357.3 772.5L354.7 781.9L351.0 789.4L347.4 798.8L346.9 803.9L323.1 805.6L323.0 800.0L319.3 799.3L319.3 781.4Z" fill="#d61f2a"/><path d="M323.1 805.6L346.9 803.9L344.7 810.2L344.3 818.3L344.6 824.4L360.6 822.9L362.3 830.8L364.2 832.7L366.6 830.4L365.4 836.6L368.3 840.3L363.2 842.9L357.9 842.4L348.1 841.2L339.2 839.4L331.3 837.5L325.7 838.8L326.9 835.2L327.9 825.6L324.7 820.7L323.4 815.7Z" fill="#d61f2a"/><path d="M332.9 665.6L344.8 666.4L354.1 670.2L360.5 671.5L364.5 676.5L365.5 679.0L369.5 675.9L366.0 685.0L365.1 698.3L366.5 705.2L345.6 707.4L342.0 702.7L340.8 697.7L340.8 694.7L334.7 689.1L328.9 686.0L329.5 683.4L327.8 677.5L331.8 672.4Z" fill="#d61f2a"/><path d="M345.6 707.4L366.5 705.2L369.3 713.0L371.5 736.7L371.5 743.3L368.9 752.9L368.8 755.9L360.9 761.9L357.7 756.1L351.0 750.7L351.3 743.5L347.8 737.7L340.8 729.5L344.0 724.8L343.0 720.9L349.4 715.2L349.6 712.1Z" fill="#0340c6"/><path d="M374.6 711.7L389.4 710.2L399.3 708.3L401.4 704.2L405.1 698.5L405.2 694.3L402.4 685.6L397.3 685.5L393.5 690.2L396.1 682.6L395.9 675.5L390.2 670.4L385.0 669.2L380.7 674.9L375.6 679.7L374.2 687.0L377.1 696.7L375.4 705.1ZM344.8 666.4L350.7 662.5L357.9 656.7L364.9 664.9L375.0 661.5L382.8 662.4L388.6 663.5L392.3 665.0L384.8 667.7L378.6 668.6L372.0 672.6L369.1 671.9L364.5 676.5L360.5 671.5L354.1 670.2Z" fill="#d61f2a"/><path d="M369.2 712.4L389.4 710.2L392.5 736.4L393.0 739.4L388.5 741.1L385.5 748.7L380.8 749.3L376.3 751.9L368.9 752.9L371.5 743.3L371.5 736.7Z" fill="#d61f2a"/><path d="M389.4 710.2L399.3 708.3L405.3 710.2L414.5 706.0L420.5 701.9L422.7 715.2L423.2 721.7L422.4 726.0L416.2 731.3L413.3 738.0L410.5 740.6L404.8 739.5L397.6 738.6L392.5 736.4Z" fill="#d61f2a"/><path d="M392.5 736.4L397.6 738.6L404.8 739.5L410.5 740.6L411.9 744.4L416.7 748.3L410.2 755.0L404.5 760.1L358.5 767.3L360.9 761.9L368.8 755.9L368.9 752.9L376.3 751.9L380.8 749.3L385.5 748.7L388.5 741.1L393.0 739.4Z" fill="#d61f2a"/><path d="M420.7 757.2L404.5 760.1L358.5 767.3L357.3 772.5L354.7 781.9L353.1 783.1L370.2 781.3L401.8 776.9L404.0 774.5L416.5 764.2Z" fill="#d61f2a"/><path d="M353.1 783.1L370.2 781.3L370.6 812.7L372.5 827.7L362.3 830.8L360.6 822.9L344.6 824.4L344.3 818.3L344.7 810.2L346.9 803.9L347.4 798.8L351.0 789.4L354.7 781.9Z" fill="#d61f2a"/><path d="M370.2 781.3L391.3 778.5L399.2 802.9L399.1 809.0L401.0 817.9L378.8 820.9L380.4 827.8L376.1 829.3L372.5 827.7L370.6 812.7Z" fill="#d61f2a"/><path d="M391.3 778.5L411.5 775.3L417.9 779.3L423.1 785.6L432.4 801.2L432.1 815.6L425.8 819.9L402.3 820.7L401.0 817.9L399.1 809.0L399.2 802.9Z" fill="#d61f2a"/><path d="M378.8 820.9L401.0 817.9L402.3 820.7L425.8 819.9L432.1 815.6L434.7 826.4L444.3 840.8L451.0 852.7L451.4 865.7L445.5 869.9L440.8 863.8L435.2 857.7L425.6 848.4L424.7 836.3L414.5 826.9L408.3 826.9L399.2 831.3L388.9 825.7L380.4 827.8Z" fill="#d61f2a"/><path d="M411.5 775.3L416.9 772.3L428.2 770.7L430.4 773.9L439.3 772.1L450.3 779.5L446.2 787.1L436.7 796.3L432.4 801.2L423.1 785.6L417.9 779.3Z" fill="#d61f2a"/><path d="M401.8 776.9L411.5 775.3L416.9 772.3L428.2 770.7L430.4 773.9L439.3 772.1L450.3 779.5L455.5 777.9L459.2 770.8L465.2 767.3L472.1 760.4L467.9 753.1L465.9 747.9L420.7 757.2L416.5 764.2L404.0 774.5Z" fill="#d61f2a"/><path d="M465.9 747.9L420.7 757.2L404.5 760.1L410.2 755.0L416.7 748.3L423.2 750.1L429.8 746.2L431.3 736.6L436.5 730.3L441.3 726.2L445.6 724.2L448.5 726.6L451.9 727.9L452.2 733.0L459.9 735.3L463.8 741.7ZM467.7 732.0L465.3 734.0L464.0 742.7L466.1 741.1Z" fill="#0340c6"/><path d="M422.7 715.2L424.3 724.4L432.2 722.8L433.1 728.0L441.2 723.6L446.2 723.9L441.3 726.2L436.5 730.3L431.3 736.6L429.8 746.2L423.2 750.1L416.7 748.3L411.9 744.4L410.5 740.6L413.3 738.0L416.2 731.3L422.4 726.0L423.2 721.7Z" fill="#d61f2a"/><path d="M432.2 722.8L459.8 716.4L463.4 728.7L468.3 727.5L467.7 732.0L462.9 734.1L459.6 730.2L455.6 722.9L458.3 731.6L453.7 732.7L451.9 727.9L448.5 726.6L445.6 724.2L441.2 723.6L433.1 728.0Z" fill="#0340c6"/><path d="M459.8 716.4L462.6 714.9L462.1 718.1L467.5 724.1L468.3 727.5L463.4 728.7Z" fill="#0340c6"/><path d="M420.5 701.9L425.5 697.9L426.0 700.6L458.0 693.2L460.3 694.7L464.2 698.3L462.4 704.0L462.5 707.6L466.8 710.2L462.6 714.9L459.8 716.4L424.3 724.4Z" fill="#d61f2a"/><path d="M464.2 698.3L470.2 700.4L471.3 705.3L472.9 710.1L471.7 716.7L467.9 722.6L461.9 717.2L466.8 710.2L462.5 707.6L462.4 704.0Z" fill="#0340c6"/><path d="M426.0 700.6L425.5 697.9L430.6 690.3L428.9 687.1L439.9 684.6L448.7 680.0L446.5 673.3L454.0 664.1L455.8 662.6L465.2 660.1L467.2 669.9L471.3 681.8L471.3 689.1L472.7 699.7L484.6 695.8L485.2 695.1L478.2 701.3L471.2 704.5L471.4 702.2L470.2 700.4L464.2 698.3L460.3 694.7L458.0 693.2Z" fill="#0340c6"/><path d="M465.2 660.1L477.8 656.3L475.9 664.3L474.9 671.9L476.3 680.6L471.3 681.8L467.2 669.9Z" fill="#0340c6"/><path d="M477.8 656.3L479.9 652.7L483.2 662.1L485.8 670.8L488.6 673.6L488.4 675.6L476.3 680.6L474.9 671.9L475.9 664.3Z" fill="#0340c6"/><path d="M479.9 652.7L483.9 645.2L483.4 637.0L486.4 628.2L492.8 627.1L496.9 628.7L500.4 639.3L508.8 647.5L501.0 658.6L491.7 665.8L488.6 673.6L485.8 670.8L483.2 662.1Z" fill="#0b7a5a"/><path d="M471.3 689.1L471.3 681.8L476.3 680.6L488.4 675.6L490.5 677.7L488.5 681.5L493.0 683.8L496.3 681.7L497.6 685.0L494.1 687.7L489.8 689.5L486.5 685.0L483.5 685.9Z" fill="#0340c6"/><path d="M471.3 689.1L483.5 685.9L485.0 692.9L477.7 696.2L472.7 699.7Z" fill="#0340c6"/><path d="M483.5 685.9L486.5 685.0L489.8 689.5L487.4 691.6L485.0 692.9Z" fill="#0340c6"/><path d="M451.5 726.7L452.0 725.9L453.2 726.7L452.4 727.8Z" fill="#0340c6"/><path d="M134.7 829.8L141.2 856.6L144.8 856.7L148.3 859.3L150.9 855.8L157.2 859.6L165.1 863.7L162.8 868.2L155.5 863.2L150.9 861.4L143.3 857.9L132.6 857.7L127.7 860.9L122.7 862.1L120.7 865.8L115.0 870.4L106.9 873.8L97.5 875.7L103.1 871.8L110.2 868.8L113.3 864.2L104.6 863.8L103.9 859.6L99.5 857.6L101.9 851.3L108.1 846.4L100.7 845.4L98.4 842.1L104.6 840.2L105.6 838.8L102.7 834.6L107.6 830.4L115.7 826.7L120.9 828.0L128.3 829.1Z" fill="#d61f2a"/><path d="M216.2 860.2L224.8 864.9L226.8 867.3L219.2 873.1L214.9 865.3ZM208.6 853.5L215.2 855.2L211.9 856.8L208.6 855.0ZM202.9 851.2L208.1 851.5L203.4 852.6ZM193.5 847.4L199.6 850.3L195.4 850.9ZM179.4 841.8L184.1 841.7L183.2 844.7L180.3 844.3Z" fill="#0340c6"/></g><g stroke="#b4b4b4" stroke-width="0.7"><line x1="485.5" y1="689.9" x2="492.5" y2="702.5"/><line x1="467.3" y1="726.9" x2="491" y2="726.9"/><line x1="467.3" y1="729.7" x2="491.5" y2="742.5"/></g><circle cx="497.4" cy="707.7" r="6.6" fill="#0340c6"/><circle cx="497.4" cy="726.8" r="6.6" fill="#0340c6"/><circle cx="497.4" cy="745.2" r="6.6" fill="#0340c6"/><circle cx="497.4" cy="763.2" r="6.6" fill="#0340c6"/></svg><svg style="left:0;top:1000px" width="600" height="400" viewBox="0 0 600 400"><g stroke="#fff" stroke-width="0.8"><circle cx="153.2" cy="183.5" r="15.4" fill="#0340c6"/><circle cx="191.5" cy="183.0999999999999" r="7.7" fill="#d61f2a"/><circle cx="228.5" cy="187.0" r="7.7" fill="#d61f2a"/><circle cx="228.5" cy="209.5" r="7.7" fill="#d61f2a"/><circle cx="262.6" cy="191.29999999999995" r="14.0" fill="#0340c6"/><circle cx="131.2" cy="216.20000000000005" r="11.7" fill="#0340c6"/><circle cx="178.3" cy="213.9000000000001" r="8.2" fill="#d61f2a"/><circle cx="197.1" cy="216.70000000000005" r="7.7" fill="#d61f2a"/><circle cx="264.5" cy="230.0" r="11.2" fill="#d61f2a"/><circle cx="116.0" cy="260.5" r="33.5" fill="#0340c6"/><circle cx="162.5" cy="248.0" r="10.8" fill="#0b7a5a"/><circle cx="189.7" cy="246.5999999999999" r="10.8" fill="#d61f2a"/><circle cx="229.1" cy="239.79999999999995" r="10.0" fill="#d61f2a"/><circle cx="204.2" cy="269.4000000000001" r="13.5" fill="#0340c6"/><circle cx="235.3" cy="268.4000000000001" r="10.5" fill="#d61f2a"/><circle cx="280.5" cy="270.5999999999999" r="13.9" fill="#d61f2a"/><circle cx="166.2" cy="293.5" r="14.5" fill="#0b7a5a"/><circle cx="198.0" cy="308.5999999999999" r="9.8" fill="#0340c6"/><circle cx="238.1" cy="302.5" r="11.2" fill="#d61f2a"/><circle cx="278.3" cy="299.70000000000005" r="11.2" fill="#d61f2a"/><circle cx="279.3" cy="332.5999999999999" r="12.2" fill="#d61f2a"/><circle cx="239.0" cy="347.0" r="28.3" fill="#d61f2a"/><circle cx="113.8" cy="359.0" r="7.9" fill="#d61f2a"/><circle cx="177.9" cy="359.0" r="8.9" fill="#0340c6"/><circle cx="302.8" cy="193.5999999999999" r="14.0" fill="#d61f2a"/><circle cx="346.3" cy="196.0" r="17.7" fill="#d61f2a"/><circle cx="405.0" cy="183.70000000000005" r="20.0" fill="#d61f2a"/><circle cx="443.3" cy="194.29999999999995" r="16.8" fill="#0340c6"/><circle cx="302.8" cy="238.5" r="9.8" fill="#0340c6"/><circle cx="342.5" cy="238.5" r="15.0" fill="#d61f2a"/><circle cx="376.2" cy="226.79999999999995" r="18.7" fill="#d61f2a"/><circle cx="410.0" cy="222.20000000000005" r="14.0" fill="#0340c6"/><circle cx="447.8" cy="221.0" r="7.9" fill="#0340c6"/><circle cx="412.0" cy="254.79999999999995" r="16.4" fill="#0340c6"/><circle cx="341.2" cy="270.5999999999999" r="12.8" fill="#d61f2a"/><circle cx="370.7" cy="264.0999999999999" r="9.8" fill="#d61f2a"/><circle cx="317.9" cy="294.79999999999995" r="15.0" fill="#d61f2a"/><circle cx="405.4" cy="290.4000000000001" r="17.3" fill="#d61f2a"/><circle cx="364.6" cy="305.0999999999999" r="17.8" fill="#d61f2a"/><circle cx="313.6" cy="323.79999999999995" r="10.7" fill="#d61f2a"/><circle cx="342.6" cy="329.9000000000001" r="13.6" fill="#d61f2a"/><circle cx="396.4" cy="322.4000000000001" r="13.6" fill="#d61f2a"/><circle cx="394.0" cy="365.0999999999999" r="24.3" fill="#d61f2a"/><circle cx="499.8" cy="106.20000000000005" r="8.8" fill="#0b7a5a"/><circle cx="468.4" cy="121.5" r="7.9" fill="#0340c6"/><circle cx="488.3" cy="126.79999999999995" r="8.8" fill="#0340c6"/><circle cx="441.2" cy="146.4000000000001" r="23.9" fill="#0340c6"/><circle cx="484.7" cy="152.29999999999995" r="14.7" fill="#0340c6"/><circle cx="469.0" cy="181.0" r="11.8" fill="#0340c6"/><circle cx="493.6" cy="179.0999999999999" r="8.8" fill="#0340c6"/></g></svg>
<div class="t" style="left:83.00px;top:12.98px;font-size:14.2px;color:#3a3a3a;">tages</div><div class="t" style="left:117.73px;top:12.98px;font-size:14.2px;color:#3a3a3a;font-weight:bold;">schau</div><div class="t" style="left:252.00px;top:15.52px;font-size:8.6px;color:#444;letter-spacing:-0.022px;">Sendung verpasst?</div><div class="t" style="left:53.20px;top:44.68px;font-size:7.7px;color:#555;">Startseite</div><div class="t" style="left:98.30px;top:44.68px;font-size:7.7px;color:#555;">Ausland</div><div class="t" style="left:138.90px;top:44.68px;font-size:7.7px;color:#555;">US-Wahl 2024</div><div class="t" style="left:199.00px;top:44.68px;font-size:7.7px;color:#555;">US-Wahl 2024: Die Ergebnisse</div><div class="t" style="left:235.00px;top:71.34px;font-size:18.5px;color:#1f62a8;letter-spacing:0.007px;">US-WAHL 2024</div><div class="t" style="left:135.00px;top:109.56px;font-size:8.2px;color:#444;letter-spacing:0.013px;">Startseite</div><div class="t" style="left:184.90px;top:109.39px;font-size:8.4px;color:#333;font-weight:bold;transform:scaleX(0.8173);transform-origin:0 0;">Ergebnisse</div><div class="t" style="left:237.00px;top:109.56px;font-size:8.2px;color:#444;letter-spacing:-0.159px;">Kandidaten</div><div class="t" style="left:291.70px;top:109.56px;font-size:8.2px;color:#444;letter-spacing:-0.247px;">Themen</div><div class="t" style="left:335.40px;top:109.56px;font-size:8.2px;color:#444;letter-spacing:-0.054px;">Vorwahlen</div><div class="t" style="left:388.50px;top:109.56px;font-size:8.2px;color:#444;letter-spacing:-0.444px;">Wahl-ABC</div><div class="t" style="left:245.70px;top:160.69px;font-size:17.5px;color:#1f62a8;letter-spacing:-0.576px;">ERGEBNISSE</div><div class="t" style="left:133.00px;top:192.55px;font-size:9.75px;color:#3a3a3a;">US-Wahl 2024 - So haben die einzelnen US-Bundesstaaten gewählt: Die</div><div class="t" style="left:133.00px;top:205.35px;font-size:9.75px;color:#3a3a3a;">Ergebnisse der Präsidentschaftswahl und der Wahlen zum Senat und</div><div class="t" style="left:133.00px;top:218.15px;font-size:9.75px;color:#3a3a3a;">Repräsentantenhaus in interaktiven Grafiken.</div><div class="t" style="left:182.00px;top:273.69px;font-size:17.5px;color:#1f62a8;letter-spacing:0.224px;">PRÄSIDENTSCHAFTSWAHL</div><div class="t" style="left:241.65px;top:302.57px;font-size:8.3px;color:#444;letter-spacing:0.006px;">Mehrheit: 270 Stimmen, offen: 21</div><div class="t" style="left:59.30px;top:406.72px;font-size:7.3px;color:#444;letter-spacing:-0.110px;">Kamala Harris</div><div class="t" style="left:497.80px;top:406.72px;font-size:7.3px;color:#444;letter-spacing:-0.306px;">Donald Trump</div><div class="t" style="left:59.30px;top:424.76px;font-size:9.5px;color:#fff;letter-spacing:0.025px;">223</div><div class="t" style="left:523.60px;top:424.76px;font-size:9.5px;color:#fff;letter-spacing:0.025px;">294</div><div class="t" style="left:451.20px;top:454.11px;font-size:6.6px;color:#444;letter-spacing:-0.071px;">Quelle: NEP/Edison via Reuters</div><div class="t" style="left:131.80px;top:493.70px;font-size:12.4px;color:#1f62a8;letter-spacing:-0.010px;">Ergebnisse in den Bundesstaaten</div><div class="t" style="left:132.00px;top:517.15px;font-size:9.75px;color:#3a3a3a;">Die Präsidentschaftswahl entscheidet sich letztlich im Electoral College, in</div><div class="t" style="left:132.00px;top:529.80px;font-size:9.75px;color:#3a3a3a;">das die Bundesstaaten abhängig von ihrer Bevölkerungszahl unterschiedlich</div><div class="t" style="left:132.00px;top:542.45px;font-size:9.75px;color:#3a3a3a;">viele Wahlleute entsenden dürfen. Die Präsidentschaftswahl ist damit</div><div class="t" style="left:132.00px;top:555.10px;font-size:9.75px;color:#3a3a3a;">letztlich das Ergebnis einer Summe von Einzelwahlen in den Bundesstaaten.</div><div class="t" style="left:132.00px;top:567.75px;font-size:9.75px;color:#3a3a3a;">Die Ergebnisse in den Bundesstaaten im Detail.</div><div class="t" style="left:48.20px;top:597.16px;font-size:10.8px;color:#333;font-weight:bold;letter-spacing:-0.018px;">Präsidentschaftswahl 2024</div><div class="t" style="left:131.00px;top:891.67px;font-size:7.6px;color:#444;letter-spacing:-0.036px;">Noch nicht ausgezählt</div><div class="t" style="left:226.00px;top:891.67px;font-size:7.6px;color:#444;letter-spacing:0.057px;">Auszählung läuft</div><div class="t" style="left:301.70px;top:891.67px;font-size:7.6px;color:#444;letter-spacing:-0.041px;">Kopf-an-Kopf</div><div class="t" style="left:364.80px;top:891.67px;font-size:7.6px;color:#444;letter-spacing:-0.042px;">Kamala Harris</div><div class="t" style="left:430.00px;top:891.67px;font-size:7.6px;color:#444;letter-spacing:0.106px;">Donald Trump</div><div class="t" style="left:46.00px;top:910.81px;font-size:6.6px;color:#444;letter-spacing:0.019px;">Quelle: NEP/Edison via Reuters</div><div class="t" style="left:132.00px;top:951.30px;font-size:12.4px;color:#1f62a8;">Ergebnisse nach Größe der Bundesstaaten</div><div class="t" style="left:132.00px;top:974.65px;font-size:9.75px;color:#3a3a3a;">Diese Darstellung veranschaulicht die unterschiedliche Bedeutung der</div><div class="t" style="left:132.00px;top:987.40px;font-size:9.75px;color:#3a3a3a;">Bundesstaaten für den Wahlausgang. Größere Kreise stehen für eine höhere</div><div class="t" style="left:132.00px;top:1000.15px;font-size:9.75px;color:#3a3a3a;">Zahl von Wahlleuten, die die Bundesstaaten in das Electoral College</div><div class="t" style="left:132.00px;top:1012.90px;font-size:9.75px;color:#3a3a3a;">entsenden. In den meisten Bundesstaaten gehen alle Stimmen der Wahlleute</div><div class="t" style="left:132.00px;top:1025.65px;font-size:9.75px;color:#3a3a3a;">an den Präsidentschaftskandidaten oder die Präsidentschaftskandidatin mit</div><div class="t" style="left:132.00px;top:1038.40px;font-size:9.75px;color:#3a3a3a;">den meisten Stimmen.</div><div class="t" style="left:48.20px;top:1067.86px;font-size:10.8px;color:#333;font-weight:bold;letter-spacing:-0.018px;">Präsidentschaftswahl 2024</div><div class="t" style="left:131.00px;top:1411.87px;font-size:7.6px;color:#444;letter-spacing:-0.036px;">Noch nicht ausgezählt</div><div class="t" style="left:226.00px;top:1411.87px;font-size:7.6px;color:#444;letter-spacing:0.057px;">Auszählung läuft</div><div class="t" style="left:301.70px;top:1411.87px;font-size:7.6px;color:#444;letter-spacing:-0.041px;">Kopf-an-Kopf</div><div class="t" style="left:364.80px;top:1411.87px;font-size:7.6px;color:#444;letter-spacing:-0.042px;">Kamala Harris</div><div class="t" style="left:430.00px;top:1411.87px;font-size:7.6px;color:#444;letter-spacing:0.106px;">Donald Trump</div><div class="t" style="left:46.00px;top:1433.11px;font-size:6.6px;color:#444;letter-spacing:0.019px;">Quelle: NEP/Edison via Reuters</div><div class="t" style="left:132.00px;top:1479.20px;font-size:12.4px;color:#1f62a8;">Umfragen zu Gründen des Wahlergebnisses</div><div class="t" style="left:132.00px;top:1502.55px;font-size:9.75px;color:#3a3a3a;">In Befragungen vor und nach der Wahl haben US-Forschungsinstitute die</div><div class="t" style="left:132.00px;top:1515.25px;font-size:9.75px;color:#3a3a3a;">Gründe für das Abschneiden von Donald Trump und Kamala Harris</div><div class="t" style="left:132.00px;top:1527.95px;font-size:9.75px;color:#3a3a3a;">untersucht und auch nach den Gründen für die Wahlentscheidung und die</div><div class="t" style="left:132.00px;top:1540.65px;font-size:9.75px;color:#3a3a3a;">Stimmung im Land gefragt. Die Ergebnisse liefern wichtige Anhaltspunkte zu</div><div class="t" style="left:132.00px;top:1553.35px;font-size:9.75px;color:#3a3a3a;">den Ursachen des Ergebnisses und zum Wahlverhalten der verschiedenen</div><div class="t" style="left:132.00px;top:1566.05px;font-size:9.75px;color:#3a3a3a;">Bevölkerungsgruppen.</div><div class="t" style="left:67.50px;top:1614.10px;font-size:12.4px;color:#333;font-weight:bold;letter-spacing:0.029px;">US-Wahl 2024</div><div class="t" style="left:67.60px;top:1633.49px;font-size:15.6px;color:#333;letter-spacing:-0.012px;">Wahlverhalten in Bevölkerungsgruppen</div><div class="t" style="left:252.30px;top:1735.07px;font-size:7px;color:#444;letter-spacing:0.487px;">Harris</div><div class="t" style="left:326.00px;top:1735.07px;font-size:7px;color:#444;letter-spacing:0.759px;">Trump</div><div class="t" style="left:256.80px;top:1759.57px;font-size:11.5px;color:#333;font-weight:bold;letter-spacing:-0.992px;">41</div><div class="t" style="left:331.60px;top:1759.57px;font-size:11.5px;color:#333;font-weight:bold;letter-spacing:-1.392px;">57</div><div class="t" style="left:288.52px;top:1761.43px;font-size:8px;color:#444;">Weiße</div><div class="t" style="left:256.80px;top:1794.17px;font-size:11.5px;color:#333;font-weight:bold;letter-spacing:-0.992px;">85</div><div class="t" style="left:331.60px;top:1794.17px;font-size:11.5px;color:#333;font-weight:bold;letter-spacing:-1.392px;">13</div><div class="t" style="left:282.44px;top:1796.03px;font-size:8px;color:#444;">Schwarze</div><div class="t" style="left:256.80px;top:1828.77px;font-size:11.5px;color:#333;font-weight:bold;letter-spacing:-0.992px;">52</div><div class="t" style="left:331.60px;top:1828.77px;font-size:11.5px;color:#333;font-weight:bold;letter-spacing:-1.392px;">46</div><div class="t" style="left:282.66px;top:1830.63px;font-size:8px;color:#444;">Hispanics</div><div class="t" style="left:66.40px;top:1864.01px;font-size:7.2px;color:#2b5c9c;font-weight:bold;letter-spacing:-0.280px;">infratest dimap</div><div class="t" style="left:267.00px;top:1864.41px;font-size:6.6px;color:#444;letter-spacing:-0.020px;">Stand: 06.11.2024, 20:52 Uhr</div><div class="t" style="left:387.60px;top:1864.41px;font-size:6.6px;color:#444;letter-spacing:-0.174px;">Quelle: NEP/Edison via Reuters</div><div class="t" style="left:67.50px;top:1936.70px;font-size:12.4px;color:#333;font-weight:bold;letter-spacing:0.029px;">US-Wahl 2024</div><div class="t" style="left:67.60px;top:1956.19px;font-size:15.6px;color:#333;letter-spacing:-0.091px;">Wahlentscheidung erfolgte vor allem aus...</div><div class="t" style="left:72.00px;top:2001.53px;font-size:9.3px;color:#444;letter-spacing:-0.127px;">Überzeugung von meinem Kandidaten</div><div class="t" style="left:72.00px;top:2098.93px;font-size:9.3px;color:#444;letter-spacing:-0.141px;">Ablehnung des anderen Kandidaten</div><div class="t" style="left:72.00px;top:2025.40px;font-size:7.8px;color:#444;letter-spacing:-0.007px;">Harris-Wähler</div><div class="t" style="left:137.90px;top:2023.57px;font-size:11.5px;color:#333;font-weight:bold;letter-spacing:-1.192px;">67</div><div class="t" style="left:72.00px;top:2057.90px;font-size:7.8px;color:#444;letter-spacing:-0.139px;">Trump-Wähler</div><div class="t" style="left:137.90px;top:2056.07px;font-size:11.5px;color:#333;font-weight:bold;letter-spacing:-1.192px;">80</div><div class="t" style="left:72.00px;top:2122.90px;font-size:7.8px;color:#444;letter-spacing:-0.007px;">Harris-Wähler</div><div class="t" style="left:137.90px;top:2121.07px;font-size:11.5px;color:#333;font-weight:bold;letter-spacing:-1.192px;">30</div><div class="t" style="left:72.00px;top:2156.50px;font-size:7.8px;color:#444;letter-spacing:-0.139px;">Trump-Wähler</div><div class="t" style="left:137.90px;top:2154.67px;font-size:11.5px;color:#333;font-weight:bold;letter-spacing:-1.192px;">18</div><div class="t" style="left:66.40px;top:2187.51px;font-size:7.2px;color:#2b5c9c;font-weight:bold;letter-spacing:-0.280px;">infratest dimap</div><div class="t" style="left:267.00px;top:2187.91px;font-size:6.6px;color:#444;letter-spacing:-0.020px;">Stand: 06.11.2024, 20:52 Uhr</div><div class="t" style="left:387.60px;top:2187.91px;font-size:6.6px;color:#444;letter-spacing:-0.174px;">Quelle: NEP/Edison via Reuters</div><div class="t" style="left:141.55px;top:2265.01px;font-size:5.9px;color:#fff;font-weight:bold;transform:scaleX(0.9122);transform-origin:0 0;">BILDER</div><div class="t" style="left:138.00px;top:2276.89px;font-size:8.4px;color:#444;letter-spacing:0.395px;">Infografik</div><div class="t" style="left:138.00px;top:2288.33px;font-size:11.9px;color:#1f62a8;">Wie die USA auf Trump</div><div class="t" style="left:138.00px;top:2302.13px;font-size:11.9px;color:#1f62a8;">blicken und wer ihn wählte</div><div class="t" style="left:404.55px;top:2265.01px;font-size:5.9px;color:#fff;font-weight:bold;transform:scaleX(0.9122);transform-origin:0 0;">BILDER</div><div class="t" style="left:401.00px;top:2276.89px;font-size:8.4px;color:#444;letter-spacing:0.395px;">Infografik</div><div class="t" style="left:401.00px;top:2288.33px;font-size:11.9px;color:#1f62a8;">Wie die USA auf Harris</div><div class="t" style="left:401.00px;top:2302.13px;font-size:11.9px;color:#1f62a8;">blicken und wer sie wählte</div><div class="t" style="left:141.55px;top:2356.71px;font-size:5.9px;color:#fff;font-weight:bold;transform:scaleX(0.9122);transform-origin:0 0;">BILDER</div><div class="t" style="left:138.00px;top:2368.59px;font-size:8.4px;color:#444;letter-spacing:0.395px;">Infografik</div><div class="t" style="left:138.00px;top:2380.03px;font-size:11.9px;color:#1f62a8;">Wie Trump und Harris im</div><div class="t" style="left:138.00px;top:2393.83px;font-size:11.9px;color:#1f62a8;">Vergleich bewertet werden</div><div class="t" style="left:404.55px;top:2356.71px;font-size:5.9px;color:#fff;font-weight:bold;transform:scaleX(0.9122);transform-origin:0 0;">BILDER</div><div class="t" style="left:401.00px;top:2368.59px;font-size:8.4px;color:#444;letter-spacing:0.395px;">Infografik</div><div class="t" style="left:401.00px;top:2380.03px;font-size:11.9px;color:#1f62a8;">Was die USA bewegt und</div><div class="t" style="left:401.00px;top:2393.83px;font-size:11.9px;color:#1f62a8;">die Stimmung prägt</div><div class="t" style="left:133.20px;top:2475.39px;font-size:17.5px;color:#1f62a8;letter-spacing:0.023px;">WAHL DES REPRÄSENTANTENHAUSES</div><div class="t" style="left:218.70px;top:2675.89px;font-size:17.5px;color:#1f62a8;letter-spacing:-0.124px;">WAHL DES SENATS</div><div class="t" style="left:195.70px;top:3150.39px;font-size:17.5px;color:#1f62a8;letter-spacing:0.347px;">WAHLEN IM RÜCKBLICK</div><div class="t" style="left:132.00px;top:2868.40px;font-size:12.4px;color:#1f62a8;">Ergebnisse der Senatswahl in den Bundesstaaten</div><div class="t" style="left:132.00px;top:2891.85px;font-size:9.75px;color:#3a3a3a;">Etwa ein Drittel der 100 Senatssitze wird alle zwei Jahre neu gewählt. Jeder</div><div class="t" style="left:132.00px;top:2904.55px;font-size:9.75px;color:#3a3a3a;">Bundesstaat entsendet zwei Senatorinnen oder Senatoren in diese</div><div class="t" style="left:132.00px;top:2917.25px;font-size:9.75px;color:#3a3a3a;">Kongresskammer. Die Mehrheitsverhältnisse im Senat spielen für die</div><div class="t" style="left:132.00px;top:2929.95px;font-size:9.75px;color:#3a3a3a;">jeweilige Präsidentschaft eine große Rolle bei vielen</div><div class="t" style="left:132.00px;top:2942.65px;font-size:9.75px;color:#3a3a3a;">Gesetzgebungsvorhaben. Wie sehen die Ergebnisse der Wahlen um die</div><div class="t" style="left:132.00px;top:2955.35px;font-size:9.75px;color:#3a3a3a;">Senatssitze 2024 in den Bundesstaaten aus?</div><div class="t" style="left:57.60px;top:3350.42px;font-size:8.6px;color:#333;font-weight:bold;">Service</div><div class="t" style="left:57.60px;top:3371.17px;font-size:8.6px;color:#333;font-weight:bold;">tagesschau.de</div><div class="t" style="left:57.60px;top:3391.92px;font-size:8.6px;color:#333;font-weight:bold;">ARD Angebote</div><div class="t" style="left:57.60px;top:3412.67px;font-size:8.6px;color:#333;font-weight:bold;">Rundfunkanstalten</div><div class="t" style="left:58.70px;top:3439.02px;font-size:8.6px;color:#444;">Impressum</div><div class="t" style="left:58.70px;top:3460.69px;font-size:8.6px;color:#444;">So erreichen Sie uns</div><div class="t" style="left:58.70px;top:3482.36px;font-size:8.6px;color:#444;">Datenschutzerklärung</div><div class="t" style="left:58.70px;top:3504.03px;font-size:8.6px;color:#444;">Bildrechte</div><div class="t" style="left:468.40px;top:3577.31px;font-size:6.6px;color:#333;letter-spacing:-0.246px;">Wir sind deins.</div><div class="t" style="left:509.90px;top:3572.79px;font-size:13.6px;color:#333;font-weight:bold;transform:scaleX(0.8013);transform-origin:0 0;">ARD</div><div class="t" style="left:47.00px;top:3599.11px;font-size:6.6px;color:#999;letter-spacing:-0.316px;">© ARD-aktuell / tagesschau.de</div><div class="t" style="left:138.55px;top:639.28px;font-size:6.4px;color:#fff;font-weight:bold;">WA</div><div class="t" style="left:124.91px;top:668.58px;font-size:6.4px;color:#fff;font-weight:bold;">OR</div><div class="t" style="left:207.09px;top:656.78px;font-size:6.4px;color:#fff;font-weight:bold;">MT</div><div class="t" style="left:270.18px;top:656.78px;font-size:6.4px;color:#fff;font-weight:bold;">ND</div><div class="t" style="left:311.63px;top:670.98px;font-size:6.4px;color:#fff;font-weight:bold;">MN</div><div class="t" style="left:172.10px;top:684.08px;font-size:6.4px;color:#fff;font-weight:bold;">ID</div><div class="t" style="left:215.65px;top:696.78px;font-size:6.4px;color:#fff;font-weight:bold;">WY</div><div class="t" style="left:270.36px;top:687.58px;font-size:6.4px;color:#fff;font-weight:bold;">SD</div><div class="t" style="left:263.36px;top:717.08px;font-size:6.4px;color:#fff;font-weight:bold;">NE</div><div class="t" style="left:321.30px;top:709.58px;font-size:6.4px;color:#fff;font-weight:bold;">IA</div><div class="t" style="left:142.96px;top:722.08px;font-size:6.4px;color:#fff;font-weight:bold;">NV</div><div class="t" style="left:114.98px;top:745.58px;font-size:6.4px;color:#fff;font-weight:bold;">CA</div><div class="t" style="left:181.94px;top:732.98px;font-size:6.4px;color:#fff;font-weight:bold;">UT</div><div class="t" style="left:226.21px;top:739.98px;font-size:6.4px;color:#fff;font-weight:bold;">CO</div><div class="t" style="left:283.36px;top:747.68px;font-size:6.4px;color:#fff;font-weight:bold;">KS</div><div class="t" style="left:330.25px;top:749.28px;font-size:6.4px;color:#fff;font-weight:bold;">MO</div><div class="t" style="left:173.54px;top:779.28px;font-size:6.4px;color:#fff;font-weight:bold;">AZ</div><div class="t" style="left:219.03px;top:782.78px;font-size:6.4px;color:#fff;font-weight:bold;">NM</div><div class="t" style="left:290.01px;top:779.28px;font-size:6.4px;color:#fff;font-weight:bold;">OK</div><div class="t" style="left:330.78px;top:782.98px;font-size:6.4px;color:#fff;font-weight:bold;">AR</div><div class="t" style="left:275.32px;top:813.58px;font-size:6.4px;color:#fff;font-weight:bold;">TX</div><div class="t" style="left:331.74px;top:813.08px;font-size:6.4px;color:#fff;font-weight:bold;">LA</div><div class="t" style="left:121.98px;top:840.98px;font-size:6.4px;color:#fff;font-weight:bold;">AK</div><div class="t" style="left:218.00px;top:866.88px;font-size:6.4px;color:#fff;font-weight:bold;">HI</div><div class="t" style="left:356.36px;top:729.38px;font-size:6.4px;color:#fff;font-weight:bold;">IL</div><div class="t" style="left:379.20px;top:729.38px;font-size:6.4px;color:#fff;font-weight:bold;">IN</div><div class="t" style="left:400.41px;top:724.58px;font-size:6.4px;color:#fff;font-weight:bold;">OH</div><div class="t" style="left:415.95px;top:738.88px;font-size:6.4px;color:#fff;font-weight:bold;">WV</div><div class="t" style="left:442.80px;top:743.38px;font-size:6.4px;color:#fff;font-weight:bold;">VA</div><div class="t" style="left:392.06px;top:751.78px;font-size:6.4px;color:#fff;font-weight:bold;">KY</div><div class="t" style="left:438.98px;top:763.58px;font-size:6.4px;color:#fff;font-weight:bold;">NC</div><div class="t" style="left:380.94px;top:770.28px;font-size:6.4px;color:#fff;font-weight:bold;">TN</div><div class="t" style="left:428.46px;top:784.88px;font-size:6.4px;color:#fff;font-weight:bold;">SC</div><div class="t" style="left:354.11px;top:800.58px;font-size:6.4px;color:#fff;font-weight:bold;">MS</div><div class="t" style="left:380.94px;top:800.58px;font-size:6.4px;color:#fff;font-weight:bold;">AL</div><div class="t" style="left:409.11px;top:800.58px;font-size:6.4px;color:#fff;font-weight:bold;">GA</div><div class="t" style="left:435.80px;top:848.28px;font-size:6.4px;color:#fff;font-weight:bold;">FL</div><div class="t" style="left:484.81px;top:649.18px;font-size:6.4px;color:#fff;font-weight:bold;">ME</div><div class="t" style="left:462.52px;top:663.18px;font-size:6.4px;color:#fff;font-weight:bold;">VT</div><div class="t" style="left:472.08px;top:670.48px;font-size:6.4px;color:#fff;font-weight:bold;">NH</div><div class="t" style="left:475.63px;top:679.98px;font-size:6.4px;color:#fff;font-weight:bold;">MA</div><div class="t" style="left:471.24px;top:688.48px;font-size:6.4px;color:#fff;font-weight:bold;">CT</div><div class="t" style="left:453.76px;top:686.18px;font-size:6.4px;color:#fff;font-weight:bold;">NY</div><div class="t" style="left:344.90px;top:685.58px;font-size:6.4px;color:#fff;font-weight:bold;">WI</div><div class="t" style="left:384.45px;top:699.68px;font-size:6.4px;color:#fff;font-weight:bold;">MI</div><div class="t" style="left:440.50px;top:709.78px;font-size:6.4px;color:#fff;font-weight:bold;">PA</div><div class="t" style="left:461.92px;top:711.48px;font-size:6.4px;color:#fff;font-weight:bold;">NJ</div><div class="t" style="left:494.20px;top:705.28px;font-size:6.4px;color:#fff;font-weight:bold;">RI</div><div class="t" style="left:492.96px;top:724.38px;font-size:6.4px;color:#fff;font-weight:bold;">DE</div><div class="t" style="left:492.43px;top:742.78px;font-size:6.4px;color:#fff;font-weight:bold;">MD</div><div class="t" style="left:492.78px;top:760.78px;font-size:6.4px;color:#fff;font-weight:bold;">DC</div><div class="t" style="left:146.20px;top:1179.54px;font-size:8.7px;color:#fff;font-weight:bold;">WA</div><div class="t" style="left:185.23px;top:1179.14px;font-size:8.7px;color:#fff;font-weight:bold;">MT</div><div class="t" style="left:222.23px;top:1183.04px;font-size:8.7px;color:#fff;font-weight:bold;">ND</div><div class="t" style="left:222.47px;top:1205.54px;font-size:8.7px;color:#fff;font-weight:bold;">SD</div><div class="t" style="left:255.84px;top:1187.34px;font-size:8.7px;color:#fff;font-weight:bold;">MN</div><div class="t" style="left:124.68px;top:1212.24px;font-size:8.7px;color:#fff;font-weight:bold;">OR</div><div class="t" style="left:173.96px;top:1209.94px;font-size:8.7px;color:#fff;font-weight:bold;">ID</div><div class="t" style="left:190.10px;top:1212.74px;font-size:8.7px;color:#fff;font-weight:bold;">WY</div><div class="t" style="left:260.16px;top:1226.04px;font-size:8.7px;color:#fff;font-weight:bold;">IA</div><div class="t" style="left:109.73px;top:1256.54px;font-size:8.7px;color:#fff;font-weight:bold;">CA</div><div class="t" style="left:156.47px;top:1244.04px;font-size:8.7px;color:#fff;font-weight:bold;">NV</div><div class="t" style="left:183.91px;top:1242.64px;font-size:8.7px;color:#fff;font-weight:bold;">UT</div><div class="t" style="left:223.07px;top:1235.84px;font-size:8.7px;color:#fff;font-weight:bold;">NE</div><div class="t" style="left:197.68px;top:1265.44px;font-size:8.7px;color:#fff;font-weight:bold;">CO</div><div class="t" style="left:229.27px;top:1264.44px;font-size:8.7px;color:#fff;font-weight:bold;">KS</div><div class="t" style="left:273.50px;top:1266.64px;font-size:8.7px;color:#fff;font-weight:bold;">MO</div><div class="t" style="left:160.41px;top:1289.54px;font-size:8.7px;color:#fff;font-weight:bold;">AZ</div><div class="t" style="left:191.24px;top:1304.64px;font-size:8.7px;color:#fff;font-weight:bold;">NM</div><div class="t" style="left:231.58px;top:1298.54px;font-size:8.7px;color:#fff;font-weight:bold;">OK</div><div class="t" style="left:272.03px;top:1295.74px;font-size:8.7px;color:#fff;font-weight:bold;">AR</div><div class="t" style="left:273.51px;top:1328.64px;font-size:8.7px;color:#fff;font-weight:bold;">LA</div><div class="t" style="left:233.45px;top:1343.04px;font-size:8.7px;color:#fff;font-weight:bold;">TX</div><div class="t" style="left:107.53px;top:1355.04px;font-size:8.7px;color:#fff;font-weight:bold;">AK</div><div class="t" style="left:173.56px;top:1355.04px;font-size:8.7px;color:#fff;font-weight:bold;">HI</div><div class="t" style="left:297.49px;top:1189.64px;font-size:8.7px;color:#fff;font-weight:bold;">WI</div><div class="t" style="left:341.47px;top:1192.04px;font-size:8.7px;color:#fff;font-weight:bold;">MI</div><div class="t" style="left:399.29px;top:1179.74px;font-size:8.7px;color:#fff;font-weight:bold;">PA</div><div class="t" style="left:437.75px;top:1190.34px;font-size:8.7px;color:#fff;font-weight:bold;">NJ</div><div class="t" style="left:298.94px;top:1234.54px;font-size:8.7px;color:#fff;font-weight:bold;">IL</div><div class="t" style="left:338.16px;top:1234.54px;font-size:8.7px;color:#fff;font-weight:bold;">IN</div><div class="t" style="left:369.68px;top:1222.84px;font-size:8.7px;color:#fff;font-weight:bold;">OH</div><div class="t" style="left:403.24px;top:1218.24px;font-size:8.7px;color:#fff;font-weight:bold;">MD</div><div class="t" style="left:441.77px;top:1217.04px;font-size:8.7px;color:#fff;font-weight:bold;">DE</div><div class="t" style="left:406.29px;top:1250.84px;font-size:8.7px;color:#fff;font-weight:bold;">VA</div><div class="t" style="left:335.17px;top:1266.64px;font-size:8.7px;color:#fff;font-weight:bold;">KY</div><div class="t" style="left:363.70px;top:1260.14px;font-size:8.7px;color:#fff;font-weight:bold;">WV</div><div class="t" style="left:312.11px;top:1290.84px;font-size:8.7px;color:#fff;font-weight:bold;">TN</div><div class="t" style="left:399.13px;top:1286.44px;font-size:8.7px;color:#fff;font-weight:bold;">NC</div><div class="t" style="left:358.08px;top:1301.14px;font-size:8.7px;color:#fff;font-weight:bold;">GA</div><div class="t" style="left:307.08px;top:1319.84px;font-size:8.7px;color:#fff;font-weight:bold;">MS</div><div class="t" style="left:336.81px;top:1325.94px;font-size:8.7px;color:#fff;font-weight:bold;">AL</div><div class="t" style="left:390.37px;top:1318.44px;font-size:8.7px;color:#fff;font-weight:bold;">SC</div><div class="t" style="left:388.69px;top:1361.14px;font-size:8.7px;color:#fff;font-weight:bold;">FL</div><div class="t" style="left:493.28px;top:1102.24px;font-size:8.7px;color:#fff;font-weight:bold;">ME</div><div class="t" style="left:462.85px;top:1117.54px;font-size:8.7px;color:#fff;font-weight:bold;">VT</div><div class="t" style="left:482.03px;top:1122.84px;font-size:8.7px;color:#fff;font-weight:bold;">NH</div><div class="t" style="left:435.17px;top:1142.44px;font-size:8.7px;color:#fff;font-weight:bold;">NY</div><div class="t" style="left:477.94px;top:1148.34px;font-size:8.7px;color:#fff;font-weight:bold;">MA</div><div class="t" style="left:463.21px;top:1177.04px;font-size:8.7px;color:#fff;font-weight:bold;">CT</div><div class="t" style="left:489.26px;top:1175.14px;font-size:8.7px;color:#fff;font-weight:bold;">RI</div>
</body></html>
